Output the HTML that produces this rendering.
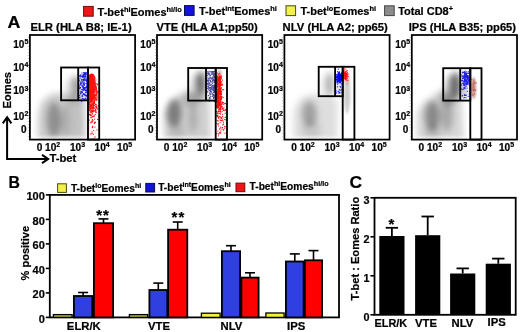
<!DOCTYPE html>
<html><head><meta charset="utf-8"><style>
html,body{margin:0;padding:0;background:#fff;width:520px;height:332px;overflow:hidden}
svg{display:block;filter:blur(0.4px)}
text{font-family:"Liberation Sans", sans-serif;fill:#000;stroke:#000;stroke-width:0.22px}
</style></head><body>
<svg xmlns="http://www.w3.org/2000/svg" width="520" height="332" viewBox="0 0 520 332" font-family='"Liberation Sans", sans-serif'><text x="7.6" y="27.9" font-size="17.0" font-weight="bold" text-anchor="start" stroke="#000" stroke-width="0.7" transform="translate(7.6,0) scale(1.05,1) translate(-7.6,0)">A</text>
<rect x="83.6" y="6.4" width="9.6" height="9.8" fill="#f21416" stroke="#6a0a0a" stroke-width="1"/>
<rect x="184.5" y="5.6" width="9.6" height="9.8" fill="#1212dc" stroke="#0a0a50" stroke-width="1"/>
<rect x="286" y="5.8" width="9.6" height="9.8" fill="#f2f04a" stroke="#4a4a10" stroke-width="1"/>
<rect x="384.6" y="5.8" width="9.6" height="9.8" fill="#8c8c8c" stroke="#444" stroke-width="1"/>
<text x="97.6" y="15.9" font-size="11" font-weight="bold"><tspan y="15.9">T-bet</tspan><tspan font-size="7.4" y="11.7">hi</tspan><tspan y="15.9">Eomes</tspan><tspan font-size="7.4" y="11.7">hi/lo</tspan></text>
<text x="198.9" y="15.2" font-size="11" font-weight="bold"><tspan y="15.2">T-bet</tspan><tspan font-size="7.4" y="11.0">int</tspan><tspan y="15.2">Eomes</tspan><tspan font-size="7.4" y="11.0">hi</tspan></text>
<text x="300.5" y="15.2" font-size="11" font-weight="bold"><tspan y="15.2">T-bet</tspan><tspan font-size="7.4" y="11.0">lo</tspan><tspan y="15.2">Eomes</tspan><tspan font-size="7.4" y="11.0">hi</tspan></text>
<text x="398.2" y="15.2" font-size="11" font-weight="bold"><tspan y="15.2">Total CD8</tspan><tspan font-size="7.4" y="11.0">+</tspan></text>
<defs><filter id="b25" x="-50%" y="-50%" width="200%" height="200%"><feGaussianBlur stdDeviation="2.6"/></filter><filter id="b3" x="-50%" y="-50%" width="200%" height="200%"><feGaussianBlur stdDeviation="3.2"/></filter><filter id="b4" x="-50%" y="-50%" width="200%" height="200%"><feGaussianBlur stdDeviation="4"/></filter><filter id="b1" x="-50%" y="-50%" width="200%" height="200%"><feGaussianBlur stdDeviation="1.2"/></filter><filter id="b03" x="-10%" y="-10%" width="120%" height="120%"><feGaussianBlur stdDeviation="0.3"/></filter>
<clipPath id="cp0"><rect x="30.9" y="36.0" width="103.2" height="102.6"/></clipPath>
<clipPath id="cp1"><rect x="158.0" y="36.0" width="103.2" height="102.6"/></clipPath>
<clipPath id="cp2"><rect x="285.4" y="36.0" width="103.2" height="102.6"/></clipPath>
<clipPath id="cp3"><rect x="412.8" y="36.0" width="103.2" height="102.6"/></clipPath>
</defs>
<text x="30.4" y="31.4" font-size="11.3" font-weight="bold" text-anchor="start" >ELR (HLA B8; IE-1)</text>
<g clip-path="url(#cp0)">
<g filter="url(#b3)">
<path d="M37.9,146.0 L37.9,114.0 L41.9,101.0 L50.9,94.0 L59.9,93.0 L84.9,96.0 L85.9,146.0 Z" fill="#000" opacity="0.2"/>
<ellipse cx="53.9" cy="120" rx="7" ry="18" fill="#000" opacity="0.3"/>
<ellipse cx="64.9" cy="121" rx="5" ry="17" fill="#000" opacity="0.12"/>
<ellipse cx="76.4" cy="87" rx="4.5" ry="11" fill="#000" opacity="0.32"/>
<ellipse cx="72.9" cy="89" rx="8" ry="13" fill="#000" opacity="0.12"/>
<ellipse cx="73.9" cy="101" rx="10" ry="5" fill="#000" opacity="0.08"/>
<ellipse cx="73.9" cy="120" rx="10" ry="18" fill="#000" opacity="0.05"/>
</g>
<rect x="29.9" y="136.0" width="105.2" height="6" fill="#fff" opacity="0.45" filter="url(#b1)"/>
<g fill="#1a1ae0"><circle cx="82.8" cy="86.1" r="0.62"/><circle cx="85.5" cy="73.4" r="0.62"/><circle cx="84.4" cy="89.5" r="0.62"/><circle cx="79.1" cy="86.8" r="0.62"/><circle cx="80.6" cy="78.0" r="0.62"/><circle cx="83.3" cy="90.2" r="0.62"/><circle cx="84.4" cy="84.6" r="0.62"/><circle cx="84.8" cy="80.2" r="0.62"/><circle cx="86.9" cy="96.6" r="0.62"/><circle cx="87.0" cy="82.7" r="0.62"/><circle cx="84.2" cy="94.5" r="0.62"/><circle cx="85.2" cy="74.1" r="0.62"/><circle cx="80.5" cy="87.7" r="0.62"/><circle cx="80.6" cy="93.0" r="0.62"/><circle cx="84.3" cy="74.1" r="0.62"/><circle cx="81.7" cy="79.6" r="0.62"/><circle cx="79.7" cy="88.4" r="0.62"/><circle cx="83.9" cy="81.9" r="0.62"/><circle cx="86.9" cy="85.4" r="0.62"/><circle cx="86.1" cy="76.1" r="0.62"/><circle cx="86.4" cy="95.7" r="0.62"/><circle cx="83.9" cy="83.5" r="0.62"/><circle cx="83.9" cy="79.5" r="0.62"/><circle cx="84.9" cy="72.6" r="0.62"/><circle cx="79.1" cy="78.8" r="0.62"/><circle cx="79.5" cy="75.9" r="0.62"/><circle cx="83.7" cy="74.6" r="0.62"/><circle cx="84.7" cy="88.5" r="0.62"/><circle cx="84.7" cy="100.2" r="0.62"/><circle cx="84.2" cy="85.4" r="0.62"/><circle cx="81.6" cy="101.3" r="0.62"/><circle cx="86.5" cy="81.3" r="0.62"/><circle cx="84.1" cy="82.3" r="0.62"/><circle cx="82.6" cy="96.3" r="0.62"/><circle cx="82.9" cy="77.6" r="0.62"/><circle cx="84.6" cy="76.7" r="0.62"/><circle cx="86.4" cy="90.8" r="0.62"/><circle cx="86.3" cy="80.6" r="0.62"/><circle cx="83.8" cy="80.2" r="0.62"/><circle cx="80.4" cy="84.4" r="0.62"/><circle cx="87.1" cy="84.4" r="0.62"/><circle cx="79.3" cy="97.4" r="0.62"/><circle cx="84.8" cy="88.1" r="0.62"/><circle cx="80.9" cy="74.8" r="0.62"/><circle cx="84.2" cy="84.3" r="0.62"/><circle cx="84.6" cy="76.6" r="0.62"/><circle cx="84.9" cy="76.0" r="0.62"/><circle cx="81.8" cy="92.0" r="0.62"/><circle cx="84.0" cy="93.8" r="0.62"/><circle cx="85.5" cy="98.4" r="0.62"/><circle cx="86.6" cy="92.7" r="0.62"/><circle cx="84.3" cy="76.8" r="0.62"/><circle cx="85.7" cy="90.3" r="0.62"/><circle cx="87.0" cy="87.0" r="0.62"/><circle cx="81.9" cy="73.0" r="0.62"/><circle cx="83.5" cy="94.2" r="0.62"/><circle cx="79.2" cy="95.4" r="0.62"/><circle cx="85.6" cy="75.8" r="0.62"/><circle cx="85.5" cy="74.8" r="0.62"/><circle cx="86.8" cy="73.1" r="0.62"/><circle cx="83.3" cy="79.4" r="0.62"/><circle cx="83.6" cy="80.1" r="0.62"/><circle cx="85.9" cy="98.2" r="0.62"/><circle cx="83.7" cy="76.7" r="0.62"/><circle cx="83.1" cy="89.1" r="0.62"/><circle cx="86.9" cy="86.4" r="0.62"/><circle cx="85.6" cy="87.8" r="0.62"/><circle cx="81.2" cy="85.1" r="0.62"/><circle cx="82.9" cy="80.3" r="0.62"/><circle cx="84.1" cy="99.0" r="0.62"/><circle cx="80.9" cy="91.7" r="0.62"/><circle cx="81.9" cy="89.6" r="0.62"/><circle cx="85.0" cy="74.3" r="0.62"/><circle cx="81.1" cy="76.6" r="0.62"/><circle cx="82.6" cy="82.1" r="0.62"/><circle cx="83.3" cy="75.4" r="0.62"/><circle cx="84.2" cy="90.2" r="0.62"/><circle cx="86.0" cy="89.3" r="0.62"/><circle cx="86.4" cy="80.2" r="0.62"/><circle cx="86.3" cy="74.6" r="0.62"/><circle cx="85.0" cy="78.5" r="0.62"/><circle cx="85.8" cy="83.5" r="0.62"/><circle cx="86.5" cy="100.3" r="0.62"/><circle cx="84.6" cy="76.3" r="0.62"/><circle cx="83.2" cy="88.0" r="0.62"/><circle cx="87.1" cy="99.0" r="0.62"/><circle cx="85.3" cy="80.6" r="0.62"/><circle cx="83.2" cy="83.7" r="0.62"/><circle cx="82.3" cy="76.5" r="0.62"/><circle cx="84.2" cy="83.0" r="0.62"/><circle cx="85.4" cy="95.6" r="0.62"/><circle cx="85.3" cy="94.1" r="0.62"/><circle cx="84.9" cy="72.7" r="0.62"/><circle cx="84.2" cy="89.7" r="0.62"/><circle cx="86.7" cy="91.0" r="0.62"/><circle cx="84.4" cy="88.0" r="0.62"/><circle cx="81.1" cy="82.9" r="0.62"/><circle cx="80.6" cy="82.1" r="0.62"/><circle cx="87.2" cy="90.2" r="0.62"/><circle cx="82.9" cy="75.7" r="0.62"/><circle cx="82.4" cy="86.7" r="0.62"/><circle cx="82.0" cy="79.3" r="0.62"/><circle cx="83.6" cy="79.2" r="0.62"/><circle cx="83.9" cy="74.0" r="0.62"/><circle cx="82.7" cy="76.8" r="0.62"/><circle cx="83.3" cy="74.3" r="0.62"/><circle cx="84.5" cy="84.5" r="0.62"/><circle cx="85.0" cy="77.8" r="0.62"/><circle cx="83.6" cy="88.7" r="0.62"/><circle cx="85.2" cy="76.3" r="0.62"/><circle cx="82.5" cy="89.7" r="0.62"/><circle cx="83.4" cy="72.7" r="0.62"/><circle cx="84.5" cy="87.5" r="0.62"/><circle cx="82.1" cy="85.2" r="0.62"/><circle cx="84.1" cy="94.2" r="0.62"/><circle cx="86.6" cy="83.7" r="0.62"/><circle cx="79.8" cy="97.5" r="0.62"/><circle cx="79.7" cy="87.9" r="0.62"/><circle cx="84.6" cy="79.7" r="0.62"/><circle cx="84.7" cy="79.2" r="0.62"/><circle cx="81.9" cy="92.9" r="0.62"/><circle cx="82.6" cy="95.2" r="0.62"/><circle cx="86.3" cy="78.1" r="0.62"/><circle cx="82.0" cy="81.7" r="0.62"/><circle cx="82.2" cy="76.5" r="0.62"/><circle cx="85.5" cy="87.1" r="0.62"/><circle cx="86.2" cy="79.2" r="0.62"/><circle cx="83.2" cy="87.3" r="0.62"/><circle cx="86.9" cy="90.6" r="0.62"/><circle cx="86.4" cy="73.1" r="0.62"/><circle cx="83.3" cy="94.1" r="0.62"/><circle cx="83.0" cy="87.1" r="0.62"/><circle cx="86.9" cy="90.2" r="0.62"/><circle cx="84.8" cy="95.2" r="0.62"/><circle cx="87.1" cy="82.1" r="0.62"/><circle cx="80.7" cy="83.6" r="0.62"/><circle cx="87.0" cy="72.3" r="0.62"/><circle cx="83.8" cy="98.5" r="0.62"/><circle cx="79.9" cy="76.2" r="0.62"/><circle cx="80.8" cy="76.2" r="0.62"/><circle cx="80.4" cy="93.8" r="0.62"/><circle cx="83.0" cy="77.3" r="0.62"/><circle cx="86.8" cy="95.2" r="0.62"/><circle cx="83.3" cy="86.4" r="0.62"/><circle cx="87.1" cy="90.8" r="0.62"/><circle cx="79.1" cy="85.1" r="0.62"/><circle cx="85.5" cy="92.5" r="0.62"/><circle cx="80.3" cy="75.3" r="0.62"/><circle cx="85.7" cy="73.0" r="0.62"/><circle cx="84.9" cy="73.5" r="0.62"/><circle cx="86.0" cy="79.9" r="0.62"/><circle cx="82.4" cy="98.7" r="0.62"/><circle cx="85.8" cy="76.9" r="0.62"/><circle cx="81.6" cy="80.1" r="0.62"/><circle cx="81.9" cy="91.7" r="0.62"/><circle cx="85.8" cy="90.6" r="0.62"/><circle cx="82.1" cy="92.4" r="0.62"/><circle cx="83.6" cy="84.6" r="0.62"/><circle cx="87.1" cy="95.1" r="0.62"/><circle cx="84.1" cy="79.4" r="0.62"/><circle cx="83.4" cy="79.7" r="0.62"/><circle cx="82.2" cy="91.0" r="0.62"/><circle cx="80.6" cy="93.0" r="0.62"/><circle cx="86.7" cy="87.8" r="0.62"/><circle cx="81.7" cy="96.0" r="0.62"/><circle cx="84.8" cy="76.0" r="0.62"/><circle cx="85.9" cy="88.8" r="0.62"/><circle cx="80.9" cy="75.3" r="0.62"/><circle cx="82.5" cy="86.3" r="0.62"/><circle cx="85.3" cy="95.8" r="0.62"/><circle cx="81.7" cy="83.2" r="0.62"/><circle cx="85.5" cy="90.8" r="0.62"/><circle cx="79.2" cy="80.7" r="0.62"/><circle cx="84.3" cy="73.8" r="0.62"/><circle cx="84.0" cy="75.4" r="0.62"/><circle cx="86.4" cy="87.4" r="0.62"/><circle cx="83.1" cy="74.9" r="0.62"/><circle cx="87.1" cy="86.4" r="0.62"/><circle cx="84.1" cy="76.6" r="0.62"/><circle cx="83.6" cy="87.8" r="0.62"/></g>
<g fill="#ff1010"><circle cx="93.3" cy="80.4" r="0.66"/><circle cx="94.2" cy="82.5" r="0.66"/><circle cx="92.0" cy="74.3" r="0.66"/><circle cx="89.6" cy="79.1" r="0.66"/><circle cx="93.6" cy="97.9" r="0.66"/><circle cx="91.8" cy="97.8" r="0.66"/><circle cx="91.8" cy="92.9" r="0.66"/><circle cx="92.3" cy="111.0" r="0.66"/><circle cx="93.3" cy="84.8" r="0.66"/><circle cx="89.7" cy="85.9" r="0.66"/><circle cx="95.5" cy="84.1" r="0.66"/><circle cx="94.4" cy="86.3" r="0.66"/><circle cx="93.5" cy="85.8" r="0.66"/><circle cx="90.7" cy="81.0" r="0.66"/><circle cx="96.3" cy="86.9" r="0.66"/><circle cx="90.6" cy="88.1" r="0.66"/><circle cx="89.6" cy="98.9" r="0.66"/><circle cx="89.4" cy="87.1" r="0.66"/><circle cx="90.3" cy="97.7" r="0.66"/><circle cx="92.9" cy="75.8" r="0.66"/><circle cx="91.1" cy="88.0" r="0.66"/><circle cx="91.0" cy="94.5" r="0.66"/><circle cx="94.1" cy="81.8" r="0.66"/><circle cx="91.0" cy="102.8" r="0.66"/><circle cx="95.6" cy="89.1" r="0.66"/><circle cx="89.2" cy="92.8" r="0.66"/><circle cx="96.1" cy="106.4" r="0.66"/><circle cx="92.6" cy="87.0" r="0.66"/><circle cx="90.4" cy="111.6" r="0.66"/><circle cx="91.9" cy="99.8" r="0.66"/><circle cx="90.9" cy="89.9" r="0.66"/><circle cx="91.1" cy="90.7" r="0.66"/><circle cx="92.9" cy="97.6" r="0.66"/><circle cx="92.5" cy="93.2" r="0.66"/><circle cx="91.6" cy="81.5" r="0.66"/><circle cx="93.4" cy="82.0" r="0.66"/><circle cx="91.2" cy="76.9" r="0.66"/><circle cx="92.9" cy="80.9" r="0.66"/><circle cx="89.2" cy="97.5" r="0.66"/><circle cx="89.6" cy="98.4" r="0.66"/><circle cx="92.0" cy="88.0" r="0.66"/><circle cx="92.8" cy="99.2" r="0.66"/><circle cx="93.7" cy="91.8" r="0.66"/><circle cx="92.4" cy="90.2" r="0.66"/><circle cx="93.9" cy="86.9" r="0.66"/><circle cx="92.0" cy="82.8" r="0.66"/><circle cx="90.2" cy="74.9" r="0.66"/><circle cx="89.5" cy="88.0" r="0.66"/><circle cx="95.2" cy="86.5" r="0.66"/><circle cx="90.1" cy="93.3" r="0.66"/><circle cx="91.6" cy="97.6" r="0.66"/><circle cx="90.4" cy="82.6" r="0.66"/><circle cx="90.1" cy="92.9" r="0.66"/><circle cx="91.5" cy="86.2" r="0.66"/><circle cx="92.4" cy="88.4" r="0.66"/><circle cx="89.7" cy="83.1" r="0.66"/><circle cx="92.6" cy="74.5" r="0.66"/><circle cx="90.1" cy="75.7" r="0.66"/><circle cx="89.1" cy="85.0" r="0.66"/><circle cx="91.1" cy="97.3" r="0.66"/><circle cx="94.9" cy="95.0" r="0.66"/><circle cx="97.3" cy="92.7" r="0.66"/><circle cx="90.6" cy="77.8" r="0.66"/><circle cx="92.2" cy="100.3" r="0.66"/><circle cx="93.6" cy="98.4" r="0.66"/><circle cx="95.5" cy="82.8" r="0.66"/><circle cx="90.7" cy="95.2" r="0.66"/><circle cx="90.7" cy="97.4" r="0.66"/><circle cx="95.1" cy="100.3" r="0.66"/><circle cx="92.1" cy="92.3" r="0.66"/><circle cx="90.7" cy="79.3" r="0.66"/><circle cx="93.3" cy="79.4" r="0.66"/><circle cx="95.8" cy="95.4" r="0.66"/><circle cx="92.8" cy="80.6" r="0.66"/><circle cx="89.6" cy="99.5" r="0.66"/><circle cx="91.3" cy="99.6" r="0.66"/><circle cx="89.8" cy="95.6" r="0.66"/><circle cx="93.3" cy="92.3" r="0.66"/><circle cx="89.6" cy="102.4" r="0.66"/><circle cx="90.9" cy="96.1" r="0.66"/><circle cx="93.7" cy="79.1" r="0.66"/><circle cx="90.2" cy="76.6" r="0.66"/><circle cx="97.9" cy="99.1" r="0.66"/><circle cx="89.3" cy="78.1" r="0.66"/><circle cx="89.4" cy="99.3" r="0.66"/><circle cx="91.4" cy="78.2" r="0.66"/><circle cx="92.4" cy="100.2" r="0.66"/><circle cx="92.3" cy="100.2" r="0.66"/><circle cx="91.0" cy="77.4" r="0.66"/><circle cx="91.9" cy="103.9" r="0.66"/><circle cx="95.9" cy="104.2" r="0.66"/><circle cx="94.5" cy="96.0" r="0.66"/><circle cx="89.5" cy="76.9" r="0.66"/><circle cx="95.9" cy="110.6" r="0.66"/><circle cx="90.1" cy="92.6" r="0.66"/><circle cx="89.7" cy="78.5" r="0.66"/><circle cx="90.1" cy="91.9" r="0.66"/><circle cx="89.3" cy="100.3" r="0.66"/><circle cx="94.4" cy="84.5" r="0.66"/><circle cx="90.5" cy="94.7" r="0.66"/><circle cx="93.8" cy="97.3" r="0.66"/><circle cx="95.4" cy="86.6" r="0.66"/><circle cx="93.2" cy="104.1" r="0.66"/><circle cx="91.0" cy="84.3" r="0.66"/><circle cx="95.7" cy="88.8" r="0.66"/><circle cx="91.7" cy="88.0" r="0.66"/><circle cx="93.5" cy="89.3" r="0.66"/><circle cx="96.1" cy="88.5" r="0.66"/><circle cx="91.1" cy="101.8" r="0.66"/><circle cx="94.2" cy="94.6" r="0.66"/><circle cx="89.9" cy="109.6" r="0.66"/><circle cx="93.8" cy="75.8" r="0.66"/><circle cx="93.6" cy="84.1" r="0.66"/><circle cx="92.8" cy="104.1" r="0.66"/><circle cx="94.2" cy="79.8" r="0.66"/><circle cx="89.3" cy="78.2" r="0.66"/><circle cx="92.1" cy="94.5" r="0.66"/><circle cx="93.8" cy="93.7" r="0.66"/><circle cx="90.6" cy="80.9" r="0.66"/><circle cx="90.7" cy="86.5" r="0.66"/><circle cx="96.0" cy="87.4" r="0.66"/><circle cx="92.6" cy="79.9" r="0.66"/><circle cx="92.5" cy="90.3" r="0.66"/><circle cx="90.8" cy="79.9" r="0.66"/><circle cx="93.2" cy="96.2" r="0.66"/><circle cx="90.7" cy="94.5" r="0.66"/><circle cx="91.8" cy="83.1" r="0.66"/><circle cx="89.7" cy="85.9" r="0.66"/><circle cx="93.6" cy="81.6" r="0.66"/><circle cx="96.0" cy="98.2" r="0.66"/><circle cx="90.5" cy="82.5" r="0.66"/><circle cx="93.3" cy="83.1" r="0.66"/><circle cx="94.7" cy="96.0" r="0.66"/><circle cx="94.7" cy="92.4" r="0.66"/><circle cx="91.6" cy="77.2" r="0.66"/><circle cx="89.0" cy="104.8" r="0.66"/><circle cx="93.1" cy="76.3" r="0.66"/><circle cx="90.8" cy="85.4" r="0.66"/><circle cx="96.5" cy="91.5" r="0.66"/><circle cx="93.5" cy="97.1" r="0.66"/><circle cx="89.2" cy="81.6" r="0.66"/><circle cx="91.5" cy="83.4" r="0.66"/><circle cx="96.1" cy="93.5" r="0.66"/><circle cx="93.8" cy="104.2" r="0.66"/><circle cx="95.9" cy="87.8" r="0.66"/><circle cx="94.3" cy="87.2" r="0.66"/><circle cx="92.8" cy="98.6" r="0.66"/><circle cx="93.0" cy="77.9" r="0.66"/><circle cx="89.7" cy="89.1" r="0.66"/><circle cx="93.0" cy="79.3" r="0.66"/><circle cx="89.5" cy="103.2" r="0.66"/><circle cx="89.7" cy="97.5" r="0.66"/><circle cx="93.1" cy="95.8" r="0.66"/><circle cx="93.2" cy="92.3" r="0.66"/><circle cx="92.8" cy="91.5" r="0.66"/><circle cx="93.6" cy="82.0" r="0.66"/><circle cx="96.4" cy="99.5" r="0.66"/><circle cx="92.3" cy="107.6" r="0.66"/><circle cx="91.3" cy="82.8" r="0.66"/><circle cx="93.4" cy="92.2" r="0.66"/><circle cx="92.1" cy="100.9" r="0.66"/><circle cx="90.6" cy="95.0" r="0.66"/><circle cx="91.1" cy="95.7" r="0.66"/><circle cx="94.4" cy="77.1" r="0.66"/><circle cx="92.0" cy="102.8" r="0.66"/><circle cx="94.2" cy="95.1" r="0.66"/><circle cx="91.3" cy="90.7" r="0.66"/><circle cx="89.1" cy="91.9" r="0.66"/><circle cx="91.5" cy="78.3" r="0.66"/><circle cx="92.8" cy="97.4" r="0.66"/><circle cx="89.2" cy="91.3" r="0.66"/><circle cx="93.2" cy="98.0" r="0.66"/><circle cx="89.1" cy="80.7" r="0.66"/><circle cx="89.2" cy="85.7" r="0.66"/><circle cx="91.0" cy="75.5" r="0.66"/><circle cx="90.3" cy="84.4" r="0.66"/><circle cx="92.0" cy="88.4" r="0.66"/><circle cx="90.7" cy="86.9" r="0.66"/><circle cx="95.6" cy="104.6" r="0.66"/><circle cx="93.5" cy="97.0" r="0.66"/><circle cx="92.4" cy="93.3" r="0.66"/><circle cx="94.2" cy="87.0" r="0.66"/><circle cx="89.3" cy="83.6" r="0.66"/><circle cx="92.5" cy="76.5" r="0.66"/><circle cx="89.3" cy="78.3" r="0.66"/><circle cx="90.8" cy="78.2" r="0.66"/><circle cx="94.9" cy="82.1" r="0.66"/><circle cx="93.9" cy="96.4" r="0.66"/><circle cx="90.8" cy="93.7" r="0.66"/><circle cx="91.6" cy="90.7" r="0.66"/><circle cx="90.7" cy="97.7" r="0.66"/><circle cx="90.3" cy="98.4" r="0.66"/><circle cx="94.8" cy="89.8" r="0.66"/><circle cx="94.6" cy="83.7" r="0.66"/><circle cx="89.0" cy="93.2" r="0.66"/><circle cx="92.9" cy="92.5" r="0.66"/><circle cx="96.9" cy="96.2" r="0.66"/><circle cx="89.3" cy="81.7" r="0.66"/><circle cx="93.9" cy="79.4" r="0.66"/><circle cx="96.6" cy="94.3" r="0.66"/><circle cx="89.1" cy="103.4" r="0.66"/><circle cx="89.5" cy="79.6" r="0.66"/><circle cx="93.5" cy="98.0" r="0.66"/><circle cx="92.7" cy="76.0" r="0.66"/><circle cx="90.4" cy="80.8" r="0.66"/><circle cx="91.7" cy="95.9" r="0.66"/><circle cx="93.4" cy="79.6" r="0.66"/><circle cx="92.1" cy="80.4" r="0.66"/><circle cx="91.9" cy="82.1" r="0.66"/><circle cx="90.1" cy="77.1" r="0.66"/><circle cx="92.4" cy="96.0" r="0.66"/><circle cx="92.4" cy="98.9" r="0.66"/><circle cx="95.0" cy="94.9" r="0.66"/><circle cx="91.3" cy="92.3" r="0.66"/><circle cx="92.5" cy="78.6" r="0.66"/><circle cx="90.9" cy="90.6" r="0.66"/><circle cx="90.8" cy="78.8" r="0.66"/><circle cx="96.3" cy="112.2" r="0.66"/><circle cx="89.3" cy="99.6" r="0.66"/><circle cx="89.9" cy="76.9" r="0.66"/><circle cx="89.4" cy="81.6" r="0.66"/><circle cx="91.8" cy="100.8" r="0.66"/><circle cx="89.0" cy="108.3" r="0.66"/><circle cx="93.3" cy="88.3" r="0.66"/><circle cx="90.0" cy="80.0" r="0.66"/><circle cx="93.9" cy="110.7" r="0.66"/><circle cx="97.6" cy="84.9" r="0.66"/><circle cx="90.5" cy="86.5" r="0.66"/><circle cx="92.2" cy="87.2" r="0.66"/><circle cx="89.4" cy="97.2" r="0.66"/><circle cx="89.3" cy="76.0" r="0.66"/><circle cx="91.9" cy="96.0" r="0.66"/><circle cx="92.5" cy="82.7" r="0.66"/><circle cx="90.7" cy="92.3" r="0.66"/><circle cx="91.1" cy="74.9" r="0.66"/><circle cx="94.2" cy="90.6" r="0.66"/><circle cx="92.5" cy="89.2" r="0.66"/><circle cx="91.7" cy="91.1" r="0.66"/><circle cx="89.3" cy="103.7" r="0.66"/><circle cx="91.5" cy="76.1" r="0.66"/><circle cx="92.1" cy="77.7" r="0.66"/><circle cx="92.1" cy="98.9" r="0.66"/><circle cx="91.1" cy="87.4" r="0.66"/><circle cx="98.1" cy="92.1" r="0.66"/><circle cx="89.8" cy="85.0" r="0.66"/><circle cx="91.4" cy="77.6" r="0.66"/><circle cx="93.3" cy="84.7" r="0.66"/><circle cx="89.0" cy="98.0" r="0.66"/><circle cx="91.1" cy="85.8" r="0.66"/><circle cx="92.1" cy="75.4" r="0.66"/><circle cx="89.1" cy="93.0" r="0.66"/><circle cx="92.6" cy="79.1" r="0.66"/><circle cx="93.8" cy="88.9" r="0.66"/><circle cx="89.6" cy="94.6" r="0.66"/><circle cx="89.5" cy="79.5" r="0.66"/><circle cx="92.5" cy="75.3" r="0.66"/><circle cx="91.4" cy="85.6" r="0.66"/><circle cx="89.8" cy="110.7" r="0.66"/><circle cx="95.6" cy="106.9" r="0.66"/><circle cx="96.1" cy="95.8" r="0.66"/><circle cx="91.1" cy="85.8" r="0.66"/><circle cx="91.3" cy="81.3" r="0.66"/><circle cx="89.5" cy="96.0" r="0.66"/><circle cx="89.6" cy="90.9" r="0.66"/><circle cx="97.1" cy="94.9" r="0.66"/><circle cx="92.3" cy="84.6" r="0.66"/><circle cx="91.2" cy="97.7" r="0.66"/><circle cx="91.1" cy="84.3" r="0.66"/><circle cx="91.6" cy="108.7" r="0.66"/><circle cx="95.4" cy="99.3" r="0.66"/><circle cx="93.4" cy="78.4" r="0.66"/><circle cx="90.3" cy="79.7" r="0.66"/><circle cx="90.3" cy="91.5" r="0.66"/><circle cx="94.2" cy="98.7" r="0.66"/><circle cx="93.2" cy="74.8" r="0.66"/><circle cx="89.7" cy="99.9" r="0.66"/><circle cx="94.1" cy="81.5" r="0.66"/><circle cx="94.4" cy="88.4" r="0.66"/><circle cx="90.9" cy="84.7" r="0.66"/><circle cx="91.2" cy="77.4" r="0.66"/><circle cx="92.0" cy="96.7" r="0.66"/><circle cx="95.6" cy="86.1" r="0.66"/><circle cx="94.1" cy="86.8" r="0.66"/><circle cx="93.2" cy="82.8" r="0.66"/><circle cx="89.8" cy="86.3" r="0.66"/><circle cx="90.9" cy="83.9" r="0.66"/><circle cx="93.8" cy="82.4" r="0.66"/><circle cx="94.6" cy="90.9" r="0.66"/><circle cx="94.7" cy="97.1" r="0.66"/><circle cx="90.5" cy="95.1" r="0.66"/><circle cx="94.5" cy="89.2" r="0.66"/><circle cx="93.5" cy="90.4" r="0.66"/><circle cx="91.1" cy="100.7" r="0.66"/><circle cx="92.1" cy="88.1" r="0.66"/><circle cx="93.0" cy="98.2" r="0.66"/><circle cx="96.5" cy="89.5" r="0.66"/><circle cx="89.2" cy="81.9" r="0.66"/><circle cx="89.5" cy="92.3" r="0.66"/><circle cx="91.2" cy="96.2" r="0.66"/><circle cx="91.5" cy="111.1" r="0.66"/><circle cx="91.2" cy="83.4" r="0.66"/><circle cx="93.7" cy="82.8" r="0.66"/><circle cx="94.9" cy="77.6" r="0.66"/><circle cx="90.2" cy="105.6" r="0.66"/><circle cx="92.7" cy="79.1" r="0.66"/><circle cx="93.8" cy="95.1" r="0.66"/><circle cx="91.3" cy="98.4" r="0.66"/><circle cx="90.0" cy="104.5" r="0.66"/><circle cx="90.1" cy="85.8" r="0.66"/><circle cx="89.6" cy="86.6" r="0.66"/><circle cx="90.7" cy="75.2" r="0.66"/><circle cx="91.3" cy="77.6" r="0.66"/><circle cx="94.6" cy="100.2" r="0.66"/><circle cx="91.9" cy="92.2" r="0.66"/><circle cx="89.6" cy="91.1" r="0.66"/><circle cx="90.6" cy="105.4" r="0.66"/><circle cx="91.4" cy="74.5" r="0.66"/><circle cx="93.3" cy="84.7" r="0.66"/><circle cx="91.3" cy="78.7" r="0.66"/><circle cx="90.4" cy="97.1" r="0.66"/><circle cx="92.1" cy="95.5" r="0.66"/><circle cx="92.7" cy="77.0" r="0.66"/><circle cx="92.8" cy="111.5" r="0.66"/><circle cx="92.4" cy="93.2" r="0.66"/><circle cx="90.6" cy="91.5" r="0.66"/><circle cx="91.6" cy="78.4" r="0.66"/><circle cx="94.5" cy="103.5" r="0.66"/><circle cx="89.4" cy="90.8" r="0.66"/><circle cx="89.5" cy="87.3" r="0.66"/><circle cx="92.8" cy="82.9" r="0.66"/><circle cx="96.3" cy="106.1" r="0.66"/><circle cx="93.7" cy="102.3" r="0.66"/><circle cx="91.5" cy="83.4" r="0.66"/><circle cx="91.8" cy="75.3" r="0.66"/><circle cx="94.8" cy="86.4" r="0.66"/><circle cx="90.9" cy="122.4" r="0.66"/><circle cx="90.6" cy="92.6" r="0.66"/><circle cx="89.3" cy="81.6" r="0.66"/><circle cx="96.0" cy="89.0" r="0.66"/><circle cx="93.0" cy="85.4" r="0.66"/><circle cx="91.9" cy="74.3" r="0.66"/><circle cx="89.6" cy="89.9" r="0.66"/><circle cx="89.1" cy="101.7" r="0.66"/><circle cx="93.8" cy="91.5" r="0.66"/><circle cx="90.6" cy="77.0" r="0.66"/><circle cx="93.9" cy="94.0" r="0.66"/><circle cx="89.5" cy="78.2" r="0.66"/><circle cx="89.7" cy="76.5" r="0.66"/><circle cx="90.6" cy="80.4" r="0.66"/><circle cx="92.2" cy="80.2" r="0.66"/><circle cx="89.7" cy="99.8" r="0.66"/><circle cx="89.6" cy="80.0" r="0.66"/><circle cx="93.9" cy="85.2" r="0.66"/><circle cx="90.7" cy="82.8" r="0.66"/><circle cx="94.9" cy="80.4" r="0.66"/><circle cx="94.6" cy="87.0" r="0.66"/><circle cx="94.1" cy="86.7" r="0.66"/><circle cx="89.1" cy="97.0" r="0.66"/><circle cx="91.8" cy="75.1" r="0.66"/><circle cx="95.8" cy="94.8" r="0.66"/><circle cx="92.9" cy="78.4" r="0.66"/><circle cx="91.8" cy="83.6" r="0.66"/><circle cx="89.0" cy="84.9" r="0.66"/><circle cx="91.7" cy="91.7" r="0.66"/><circle cx="95.7" cy="89.9" r="0.66"/><circle cx="90.6" cy="88.4" r="0.66"/><circle cx="92.0" cy="80.8" r="0.66"/><circle cx="89.6" cy="76.2" r="0.66"/><circle cx="89.8" cy="92.2" r="0.66"/><circle cx="92.1" cy="82.3" r="0.66"/><circle cx="90.3" cy="100.7" r="0.66"/><circle cx="90.2" cy="89.1" r="0.66"/><circle cx="93.9" cy="77.0" r="0.66"/><circle cx="90.9" cy="83.8" r="0.66"/><circle cx="93.2" cy="88.0" r="0.66"/><circle cx="92.1" cy="84.2" r="0.66"/><circle cx="89.4" cy="87.0" r="0.66"/><circle cx="89.3" cy="93.8" r="0.66"/><circle cx="89.1" cy="94.7" r="0.66"/><circle cx="93.0" cy="85.7" r="0.66"/><circle cx="94.8" cy="86.2" r="0.66"/><circle cx="96.1" cy="90.8" r="0.66"/><circle cx="95.5" cy="85.5" r="0.66"/><circle cx="89.8" cy="98.7" r="0.66"/><circle cx="91.2" cy="76.2" r="0.66"/><circle cx="93.0" cy="81.4" r="0.66"/><circle cx="89.5" cy="86.5" r="0.66"/><circle cx="91.9" cy="93.4" r="0.66"/><circle cx="89.9" cy="92.4" r="0.66"/><circle cx="94.6" cy="102.5" r="0.66"/><circle cx="89.9" cy="75.6" r="0.66"/><circle cx="89.8" cy="93.3" r="0.66"/><circle cx="89.9" cy="96.1" r="0.66"/><circle cx="89.3" cy="95.4" r="0.66"/><circle cx="94.7" cy="97.4" r="0.66"/><circle cx="91.7" cy="86.2" r="0.66"/><circle cx="89.8" cy="78.6" r="0.66"/><circle cx="89.2" cy="106.4" r="0.66"/><circle cx="90.1" cy="78.8" r="0.66"/><circle cx="93.4" cy="85.6" r="0.66"/><circle cx="89.1" cy="92.6" r="0.66"/><circle cx="91.6" cy="98.2" r="0.66"/><circle cx="93.1" cy="99.0" r="0.66"/><circle cx="94.4" cy="99.1" r="0.66"/><circle cx="89.3" cy="81.8" r="0.66"/><circle cx="92.5" cy="97.2" r="0.66"/><circle cx="95.3" cy="83.9" r="0.66"/><circle cx="92.4" cy="76.3" r="0.66"/><circle cx="93.9" cy="82.0" r="0.66"/><circle cx="94.7" cy="105.6" r="0.66"/><circle cx="93.3" cy="92.8" r="0.66"/><circle cx="93.1" cy="96.1" r="0.66"/><circle cx="91.1" cy="75.7" r="0.66"/><circle cx="93.7" cy="89.8" r="0.66"/><circle cx="90.5" cy="91.1" r="0.66"/><circle cx="91.1" cy="79.5" r="0.66"/><circle cx="92.2" cy="82.9" r="0.66"/><circle cx="94.9" cy="78.3" r="0.66"/><circle cx="92.2" cy="79.6" r="0.66"/><circle cx="89.3" cy="86.8" r="0.66"/><circle cx="91.8" cy="99.3" r="0.66"/><circle cx="93.0" cy="79.7" r="0.66"/><circle cx="93.6" cy="91.4" r="0.66"/><circle cx="90.8" cy="86.9" r="0.66"/><circle cx="89.2" cy="77.9" r="0.66"/><circle cx="92.0" cy="91.8" r="0.66"/><circle cx="93.9" cy="95.6" r="0.66"/><circle cx="91.5" cy="101.2" r="0.66"/><circle cx="89.7" cy="95.7" r="0.66"/><circle cx="91.9" cy="89.3" r="0.66"/><circle cx="94.1" cy="78.5" r="0.66"/><circle cx="91.0" cy="81.0" r="0.66"/><circle cx="91.7" cy="96.9" r="0.66"/><circle cx="89.4" cy="85.3" r="0.66"/><circle cx="94.6" cy="95.1" r="0.66"/><circle cx="93.5" cy="78.8" r="0.66"/><circle cx="92.2" cy="95.6" r="0.66"/><circle cx="94.3" cy="90.4" r="0.66"/><circle cx="91.1" cy="75.0" r="0.66"/><circle cx="89.6" cy="95.3" r="0.66"/><circle cx="91.7" cy="83.5" r="0.66"/><circle cx="92.0" cy="95.9" r="0.66"/><circle cx="92.4" cy="92.6" r="0.66"/><circle cx="90.2" cy="92.2" r="0.66"/><circle cx="93.8" cy="98.4" r="0.66"/><circle cx="94.3" cy="76.2" r="0.66"/><circle cx="92.0" cy="76.5" r="0.66"/><circle cx="92.4" cy="99.0" r="0.66"/><circle cx="91.1" cy="101.5" r="0.66"/><circle cx="93.5" cy="82.7" r="0.66"/><circle cx="95.4" cy="95.9" r="0.66"/><circle cx="93.8" cy="82.8" r="0.66"/><circle cx="89.3" cy="76.4" r="0.66"/><circle cx="90.6" cy="91.0" r="0.66"/><circle cx="96.4" cy="83.9" r="0.66"/><circle cx="96.8" cy="100.6" r="0.66"/><circle cx="95.9" cy="79.8" r="0.66"/><circle cx="92.8" cy="78.4" r="0.66"/><circle cx="90.6" cy="95.5" r="0.66"/><circle cx="93.1" cy="105.1" r="0.66"/><circle cx="91.4" cy="77.8" r="0.66"/><circle cx="90.4" cy="82.7" r="0.66"/><circle cx="91.9" cy="89.6" r="0.66"/><circle cx="94.2" cy="79.7" r="0.66"/><circle cx="90.6" cy="77.3" r="0.66"/><circle cx="96.9" cy="107.6" r="0.66"/><circle cx="90.9" cy="85.0" r="0.66"/><circle cx="94.2" cy="101.6" r="0.66"/><circle cx="90.5" cy="95.3" r="0.66"/><circle cx="89.4" cy="83.1" r="0.66"/><circle cx="90.5" cy="99.5" r="0.66"/><circle cx="90.0" cy="82.5" r="0.66"/><circle cx="93.8" cy="82.7" r="0.66"/><circle cx="91.5" cy="89.8" r="0.66"/><circle cx="92.8" cy="107.3" r="0.66"/><circle cx="91.8" cy="93.3" r="0.66"/><circle cx="90.5" cy="92.3" r="0.66"/><circle cx="92.2" cy="86.4" r="0.66"/><circle cx="96.2" cy="91.1" r="0.66"/><circle cx="89.2" cy="90.4" r="0.66"/><circle cx="91.0" cy="83.0" r="0.66"/><circle cx="89.2" cy="85.3" r="0.66"/><circle cx="91.9" cy="96.4" r="0.66"/><circle cx="89.2" cy="81.6" r="0.66"/><circle cx="92.2" cy="89.1" r="0.66"/><circle cx="90.3" cy="84.7" r="0.66"/><circle cx="92.3" cy="77.4" r="0.66"/><circle cx="93.2" cy="103.0" r="0.66"/><circle cx="91.2" cy="83.4" r="0.66"/><circle cx="94.0" cy="88.3" r="0.66"/><circle cx="90.0" cy="75.3" r="0.66"/><circle cx="93.0" cy="101.7" r="0.66"/><circle cx="89.4" cy="90.4" r="0.66"/><circle cx="90.0" cy="79.4" r="0.66"/><circle cx="91.4" cy="91.6" r="0.66"/><circle cx="90.1" cy="96.7" r="0.66"/><circle cx="92.4" cy="92.4" r="0.66"/><circle cx="90.7" cy="85.5" r="0.66"/><circle cx="96.9" cy="91.5" r="0.66"/><circle cx="92.3" cy="82.9" r="0.66"/><circle cx="91.0" cy="80.7" r="0.66"/><circle cx="91.5" cy="86.3" r="0.66"/><circle cx="92.8" cy="74.7" r="0.66"/><circle cx="94.1" cy="87.5" r="0.66"/><circle cx="89.2" cy="78.7" r="0.66"/><circle cx="90.2" cy="81.0" r="0.66"/><circle cx="89.7" cy="102.3" r="0.66"/><circle cx="91.8" cy="97.8" r="0.66"/><circle cx="92.8" cy="84.7" r="0.66"/><circle cx="95.5" cy="87.4" r="0.66"/><circle cx="90.1" cy="76.3" r="0.66"/><circle cx="93.5" cy="88.8" r="0.66"/><circle cx="94.3" cy="79.1" r="0.66"/><circle cx="91.0" cy="87.1" r="0.66"/><circle cx="95.0" cy="86.5" r="0.66"/><circle cx="94.6" cy="101.2" r="0.66"/><circle cx="93.8" cy="101.0" r="0.66"/><circle cx="93.9" cy="86.9" r="0.66"/><circle cx="91.7" cy="77.5" r="0.66"/><circle cx="91.0" cy="108.8" r="0.66"/><circle cx="90.8" cy="91.0" r="0.66"/><circle cx="91.7" cy="82.1" r="0.66"/><circle cx="92.5" cy="88.3" r="0.66"/><circle cx="96.7" cy="107.0" r="0.66"/><circle cx="94.1" cy="85.3" r="0.66"/><circle cx="91.0" cy="84.6" r="0.66"/><circle cx="95.2" cy="91.8" r="0.66"/><circle cx="95.6" cy="111.8" r="0.66"/><circle cx="94.8" cy="94.5" r="0.66"/><circle cx="94.5" cy="77.1" r="0.66"/><circle cx="95.8" cy="86.3" r="0.66"/><circle cx="97.4" cy="84.1" r="0.66"/><circle cx="94.5" cy="97.1" r="0.66"/><circle cx="90.4" cy="88.1" r="0.66"/><circle cx="94.0" cy="92.8" r="0.66"/><circle cx="89.2" cy="80.9" r="0.66"/><circle cx="89.4" cy="102.7" r="0.66"/><circle cx="89.2" cy="84.5" r="0.66"/><circle cx="90.9" cy="89.7" r="0.66"/><circle cx="90.9" cy="94.8" r="0.66"/><circle cx="92.0" cy="91.5" r="0.66"/><circle cx="89.9" cy="98.6" r="0.66"/><circle cx="89.7" cy="96.1" r="0.66"/><circle cx="93.4" cy="90.3" r="0.66"/><circle cx="89.1" cy="78.3" r="0.66"/><circle cx="91.3" cy="83.5" r="0.66"/><circle cx="91.9" cy="106.1" r="0.66"/><circle cx="94.5" cy="81.1" r="0.66"/><circle cx="89.2" cy="76.3" r="0.66"/><circle cx="91.7" cy="95.3" r="0.66"/><circle cx="89.4" cy="94.9" r="0.66"/><circle cx="92.3" cy="93.4" r="0.66"/><circle cx="89.7" cy="95.8" r="0.66"/><circle cx="91.9" cy="95.6" r="0.66"/><circle cx="89.8" cy="114.7" r="0.66"/><circle cx="93.3" cy="85.1" r="0.66"/><circle cx="91.0" cy="86.0" r="0.66"/><circle cx="90.1" cy="87.9" r="0.66"/><circle cx="94.4" cy="76.7" r="0.66"/><circle cx="91.3" cy="95.0" r="0.66"/><circle cx="93.5" cy="94.8" r="0.66"/><circle cx="93.1" cy="74.7" r="0.66"/><circle cx="91.4" cy="80.1" r="0.66"/><circle cx="90.5" cy="94.7" r="0.66"/><circle cx="90.7" cy="84.7" r="0.66"/><circle cx="90.9" cy="91.3" r="0.66"/><circle cx="91.5" cy="80.4" r="0.66"/><circle cx="90.2" cy="89.3" r="0.66"/><circle cx="92.8" cy="110.7" r="0.66"/><circle cx="89.1" cy="78.7" r="0.66"/><circle cx="89.5" cy="83.7" r="0.66"/><circle cx="90.3" cy="85.2" r="0.66"/><circle cx="91.6" cy="76.0" r="0.66"/><circle cx="90.4" cy="91.5" r="0.66"/><circle cx="92.1" cy="90.9" r="0.66"/><circle cx="92.4" cy="89.7" r="0.66"/><circle cx="91.6" cy="82.8" r="0.66"/><circle cx="91.8" cy="105.2" r="0.66"/><circle cx="94.4" cy="101.0" r="0.66"/><circle cx="91.9" cy="92.4" r="0.66"/><circle cx="89.2" cy="95.6" r="0.66"/><circle cx="90.6" cy="108.5" r="0.66"/><circle cx="94.5" cy="92.1" r="0.66"/><circle cx="94.8" cy="84.0" r="0.66"/><circle cx="90.4" cy="94.7" r="0.66"/><circle cx="90.9" cy="82.3" r="0.66"/><circle cx="90.6" cy="88.7" r="0.66"/><circle cx="91.0" cy="77.5" r="0.66"/><circle cx="92.1" cy="80.2" r="0.66"/><circle cx="92.7" cy="75.4" r="0.66"/><circle cx="93.3" cy="79.9" r="0.66"/><circle cx="90.8" cy="81.9" r="0.66"/><circle cx="94.5" cy="89.2" r="0.66"/><circle cx="91.6" cy="92.1" r="0.66"/><circle cx="92.0" cy="82.7" r="0.66"/><circle cx="92.5" cy="92.8" r="0.66"/><circle cx="93.0" cy="75.9" r="0.66"/><circle cx="90.9" cy="83.7" r="0.66"/><circle cx="91.3" cy="93.5" r="0.66"/><circle cx="90.9" cy="74.8" r="0.66"/><circle cx="93.2" cy="95.8" r="0.66"/><circle cx="92.0" cy="95.6" r="0.66"/><circle cx="91.5" cy="83.2" r="0.66"/><circle cx="89.8" cy="80.0" r="0.66"/><circle cx="94.3" cy="97.4" r="0.66"/><circle cx="90.8" cy="96.2" r="0.66"/><circle cx="91.2" cy="74.2" r="0.66"/><circle cx="96.5" cy="88.6" r="0.66"/><circle cx="93.0" cy="90.1" r="0.66"/><circle cx="91.3" cy="88.4" r="0.66"/><circle cx="95.0" cy="82.0" r="0.66"/><circle cx="90.1" cy="82.4" r="0.66"/><circle cx="92.3" cy="77.3" r="0.66"/><circle cx="90.4" cy="83.5" r="0.66"/><circle cx="92.2" cy="91.0" r="0.66"/><circle cx="91.0" cy="96.2" r="0.66"/><circle cx="89.2" cy="82.3" r="0.66"/><circle cx="93.3" cy="105.1" r="0.66"/><circle cx="90.1" cy="85.5" r="0.66"/><circle cx="93.0" cy="95.6" r="0.66"/><circle cx="92.9" cy="95.5" r="0.66"/><circle cx="92.8" cy="106.1" r="0.66"/><circle cx="89.3" cy="104.0" r="0.66"/><circle cx="89.7" cy="95.1" r="0.66"/><circle cx="90.6" cy="102.2" r="0.66"/><circle cx="92.9" cy="103.7" r="0.66"/><circle cx="91.7" cy="88.6" r="0.66"/><circle cx="91.3" cy="81.5" r="0.66"/><circle cx="91.8" cy="78.1" r="0.66"/><circle cx="96.1" cy="89.9" r="0.66"/><circle cx="92.5" cy="78.5" r="0.66"/><circle cx="89.5" cy="80.5" r="0.66"/><circle cx="92.7" cy="81.2" r="0.66"/><circle cx="91.2" cy="88.3" r="0.66"/><circle cx="91.0" cy="89.7" r="0.66"/><circle cx="93.7" cy="99.5" r="0.66"/><circle cx="95.5" cy="97.7" r="0.66"/><circle cx="90.2" cy="108.8" r="0.66"/><circle cx="93.0" cy="94.5" r="0.66"/><circle cx="92.7" cy="101.9" r="0.66"/><circle cx="90.4" cy="77.6" r="0.66"/><circle cx="90.9" cy="76.4" r="0.66"/><circle cx="92.7" cy="92.5" r="0.66"/><circle cx="92.1" cy="95.1" r="0.66"/><circle cx="91.5" cy="95.6" r="0.66"/><circle cx="90.9" cy="90.0" r="0.66"/><circle cx="91.3" cy="74.5" r="0.66"/><circle cx="89.9" cy="89.1" r="0.66"/><circle cx="90.6" cy="86.1" r="0.66"/><circle cx="93.4" cy="105.8" r="0.66"/><circle cx="94.3" cy="87.2" r="0.66"/><circle cx="94.6" cy="119.2" r="0.66"/><circle cx="92.6" cy="100.1" r="0.66"/><circle cx="90.9" cy="97.1" r="0.66"/><circle cx="95.4" cy="109.7" r="0.66"/><circle cx="91.2" cy="95.2" r="0.66"/><circle cx="97.1" cy="97.5" r="0.66"/><circle cx="90.1" cy="74.9" r="0.66"/><circle cx="89.6" cy="104.7" r="0.66"/><circle cx="92.5" cy="87.3" r="0.66"/><circle cx="89.1" cy="90.6" r="0.66"/><circle cx="91.1" cy="105.9" r="0.66"/><circle cx="89.5" cy="96.3" r="0.66"/><circle cx="91.7" cy="80.7" r="0.66"/><circle cx="89.5" cy="92.0" r="0.66"/><circle cx="92.0" cy="82.9" r="0.66"/><circle cx="94.9" cy="127.1" r="0.66"/><circle cx="90.5" cy="82.1" r="0.66"/><circle cx="90.7" cy="76.4" r="0.66"/><circle cx="90.7" cy="94.0" r="0.66"/><circle cx="89.0" cy="90.1" r="0.66"/><circle cx="90.6" cy="93.9" r="0.66"/><circle cx="89.6" cy="87.3" r="0.66"/><circle cx="95.9" cy="98.4" r="0.66"/><circle cx="93.7" cy="90.3" r="0.66"/><circle cx="90.6" cy="76.4" r="0.66"/><circle cx="93.7" cy="79.0" r="0.66"/><circle cx="90.3" cy="99.9" r="0.66"/><circle cx="89.4" cy="78.0" r="0.66"/><circle cx="92.9" cy="88.8" r="0.66"/><circle cx="89.5" cy="90.8" r="0.66"/><circle cx="96.6" cy="92.0" r="0.66"/><circle cx="97.5" cy="91.2" r="0.66"/><circle cx="90.0" cy="87.2" r="0.66"/><circle cx="89.9" cy="101.1" r="0.66"/><circle cx="93.1" cy="90.0" r="0.66"/><circle cx="96.9" cy="93.4" r="0.66"/><circle cx="89.4" cy="88.1" r="0.66"/><circle cx="90.4" cy="93.0" r="0.66"/><circle cx="90.3" cy="89.9" r="0.66"/><circle cx="92.6" cy="126.4" r="0.66"/><circle cx="89.1" cy="91.9" r="0.66"/><circle cx="92.4" cy="93.7" r="0.66"/><circle cx="90.0" cy="102.9" r="0.66"/><circle cx="89.5" cy="98.7" r="0.66"/><circle cx="90.8" cy="101.7" r="0.66"/><circle cx="91.2" cy="85.1" r="0.66"/><circle cx="92.9" cy="103.7" r="0.66"/><circle cx="89.7" cy="95.0" r="0.66"/><circle cx="90.9" cy="105.2" r="0.66"/><circle cx="93.6" cy="130.6" r="0.66"/><circle cx="90.3" cy="108.9" r="0.66"/><circle cx="94.1" cy="107.2" r="0.66"/><circle cx="95.0" cy="137.0" r="0.66"/><circle cx="93.5" cy="111.4" r="0.66"/><circle cx="94.9" cy="108.4" r="0.66"/><circle cx="92.5" cy="111.6" r="0.66"/><circle cx="89.1" cy="114.5" r="0.66"/><circle cx="92.4" cy="119.4" r="0.66"/><circle cx="92.0" cy="133.3" r="0.66"/><circle cx="91.1" cy="107.2" r="0.66"/><circle cx="97.6" cy="119.5" r="0.66"/><circle cx="92.3" cy="121.9" r="0.66"/><circle cx="92.4" cy="127.5" r="0.66"/><circle cx="95.3" cy="122.3" r="0.66"/><circle cx="95.0" cy="122.1" r="0.66"/><circle cx="93.0" cy="107.3" r="0.66"/><circle cx="93.5" cy="111.8" r="0.66"/><circle cx="92.5" cy="127.6" r="0.66"/><circle cx="91.7" cy="111.0" r="0.66"/><circle cx="91.3" cy="104.9" r="0.66"/><circle cx="92.9" cy="120.4" r="0.66"/><circle cx="96.1" cy="104.8" r="0.66"/><circle cx="92.8" cy="104.7" r="0.66"/><circle cx="92.2" cy="138.9" r="0.66"/><circle cx="91.8" cy="121.2" r="0.66"/><circle cx="90.7" cy="106.0" r="0.66"/><circle cx="91.3" cy="106.5" r="0.66"/><circle cx="90.7" cy="106.1" r="0.66"/><circle cx="93.8" cy="104.9" r="0.66"/><circle cx="92.3" cy="113.3" r="0.66"/><circle cx="97.4" cy="109.0" r="0.66"/><circle cx="94.1" cy="115.1" r="0.66"/><circle cx="93.3" cy="134.2" r="0.66"/><circle cx="91.0" cy="117.1" r="0.66"/><circle cx="92.2" cy="114.1" r="0.66"/><circle cx="89.7" cy="110.2" r="0.66"/><circle cx="93.4" cy="106.6" r="0.66"/><circle cx="92.3" cy="107.8" r="0.66"/><circle cx="89.3" cy="114.4" r="0.66"/><circle cx="89.3" cy="105.9" r="0.66"/><circle cx="91.0" cy="107.4" r="0.66"/><circle cx="91.4" cy="104.1" r="0.66"/><circle cx="89.5" cy="107.6" r="0.66"/><circle cx="93.4" cy="108.2" r="0.66"/><circle cx="90.4" cy="114.9" r="0.66"/><circle cx="90.3" cy="112.7" r="0.66"/><circle cx="93.7" cy="116.6" r="0.66"/><circle cx="91.1" cy="117.7" r="0.66"/><circle cx="90.2" cy="115.1" r="0.66"/><circle cx="94.5" cy="123.5" r="0.66"/><circle cx="91.2" cy="106.5" r="0.66"/><circle cx="92.1" cy="131.9" r="0.66"/><circle cx="91.1" cy="115.2" r="0.66"/><circle cx="94.9" cy="122.5" r="0.66"/><circle cx="92.6" cy="108.7" r="0.66"/><circle cx="95.5" cy="110.0" r="0.66"/><circle cx="95.5" cy="114.3" r="0.66"/><circle cx="93.1" cy="106.0" r="0.66"/><circle cx="91.4" cy="110.3" r="0.66"/><circle cx="93.2" cy="108.5" r="0.66"/><circle cx="92.9" cy="110.3" r="0.66"/><circle cx="89.5" cy="120.1" r="0.66"/><circle cx="91.2" cy="115.5" r="0.66"/><circle cx="95.6" cy="112.0" r="0.66"/><circle cx="91.8" cy="110.6" r="0.66"/><circle cx="94.2" cy="110.9" r="0.66"/><circle cx="93.3" cy="139.1" r="0.66"/><circle cx="96.4" cy="108.0" r="0.66"/><circle cx="89.6" cy="107.8" r="0.66"/><circle cx="93.1" cy="110.0" r="0.66"/><circle cx="92.7" cy="116.4" r="0.66"/><circle cx="93.0" cy="107.6" r="0.66"/><circle cx="90.3" cy="106.2" r="0.66"/><circle cx="92.6" cy="121.8" r="0.66"/><circle cx="91.0" cy="122.8" r="0.66"/><circle cx="89.2" cy="104.3" r="0.66"/><circle cx="89.6" cy="104.1" r="0.66"/><circle cx="91.4" cy="110.5" r="0.66"/><circle cx="91.7" cy="110.4" r="0.66"/><circle cx="92.4" cy="116.9" r="0.66"/><circle cx="90.9" cy="134.0" r="0.66"/><circle cx="91.4" cy="106.1" r="0.66"/><circle cx="90.0" cy="104.7" r="0.66"/><circle cx="91.8" cy="112.4" r="0.66"/><circle cx="93.8" cy="138.9" r="0.66"/><circle cx="89.9" cy="109.7" r="0.66"/><circle cx="98.2" cy="105.6" r="0.66"/><circle cx="94.2" cy="116.0" r="0.66"/><circle cx="97.1" cy="129.8" r="0.66"/></g>
</g>
<g fill="none" stroke="#000" stroke-width="1.85">
<rect x="61.099999999999994" y="67.5" width="26.900000000000002" height="32.8"/>
<line x1="78.19999999999999" y1="67.5" x2="78.19999999999999" y2="100.3"/>
<rect x="88.0" y="67.5" width="11.199999999999996" height="72.1"/>
</g>
<rect x="29.9" y="35.0" width="105.2" height="104.6" fill="none" stroke="#000" stroke-width="1.75"/>
<line x1="28.299999999999997" y1="37.0" x2="28.299999999999997" y2="139.6" stroke="#aaa" stroke-width="0.9" stroke-dasharray="0.8 2.2"/>
<text x="28.299999999999997" y="47.8" font-size="10.0" font-weight="bold" text-anchor="end">10<tspan font-size="7.0" dy="-3.5">5</tspan></text>
<text x="28.299999999999997" y="70.7" font-size="10.0" font-weight="bold" text-anchor="end">10<tspan font-size="7.0" dy="-3.5">4</tspan></text>
<text x="28.299999999999997" y="94.4" font-size="10.0" font-weight="bold" text-anchor="end">10<tspan font-size="7.0" dy="-3.5">3</tspan></text>
<text x="28.299999999999997" y="119.8" font-size="10.0" font-weight="bold" text-anchor="end">10<tspan font-size="7.0" dy="-3.5">2</tspan></text>
<text x="26.499999999999996" y="132.7" font-size="10.0" font-weight="bold" text-anchor="end">0</text>
<text x="36.699999999999996" y="150.7" font-size="10.1" font-weight="bold">0</text>
<text x="45.099999999999994" y="150.7" font-size="10.1" font-weight="bold">10<tspan font-size="7.0" dy="-3.6">2</tspan></text>
<text x="70.0" y="150.7" font-size="10.1" font-weight="bold">10<tspan font-size="7.0" dy="-3.6">3</tspan></text>
<text x="94.6" y="150.7" font-size="10.1" font-weight="bold">10<tspan font-size="7.0" dy="-3.6">4</tspan></text>
<text x="117.1" y="150.7" font-size="10.1" font-weight="bold">10<tspan font-size="7.0" dy="-3.6">5</tspan></text>
<text x="156.6" y="31.4" font-size="11.13" font-weight="bold" text-anchor="start" >VTE (HLA A1;pp50)</text>
<g clip-path="url(#cp1)">
<g filter="url(#b3)">
<path d="M164.0,146.0 L164.0,113.0 L171.0,101.0 L179.0,94.0 L188.0,90.0 L209.0,96.0 L211.0,146.0 Z" fill="#000" opacity="0.19"/>
<ellipse cx="174.0" cy="113" rx="7.5" ry="14" fill="#000" opacity="0.4"/>
<ellipse cx="177.0" cy="131" rx="8" ry="8" fill="#000" opacity="0.1"/>
<ellipse cx="193.0" cy="118" rx="4.5" ry="15" fill="#000" opacity="0.16"/>
<ellipse cx="201.0" cy="83" rx="4.8" ry="12" fill="#000" opacity="0.5"/>
<ellipse cx="198.0" cy="88" rx="8" ry="15" fill="#000" opacity="0.16"/>
<ellipse cx="190.0" cy="100" rx="8" ry="7" fill="#000" opacity="0.16"/>
</g>
<rect x="157.0" y="136.0" width="105.2" height="6" fill="#fff" opacity="0.45" filter="url(#b1)"/>
<g fill="#40409a"><circle cx="212.0" cy="89.6" r="0.62"/><circle cx="212.1" cy="86.1" r="0.62"/><circle cx="214.5" cy="82.7" r="0.62"/><circle cx="214.5" cy="80.0" r="0.62"/><circle cx="214.1" cy="95.3" r="0.62"/><circle cx="214.1" cy="71.6" r="0.62"/><circle cx="211.2" cy="72.3" r="0.62"/><circle cx="214.7" cy="81.7" r="0.62"/><circle cx="208.7" cy="100.5" r="0.62"/><circle cx="209.0" cy="78.4" r="0.62"/><circle cx="214.4" cy="87.4" r="0.62"/><circle cx="213.6" cy="75.6" r="0.62"/><circle cx="211.6" cy="88.7" r="0.62"/><circle cx="213.2" cy="89.4" r="0.62"/><circle cx="210.5" cy="80.5" r="0.62"/><circle cx="213.0" cy="94.1" r="0.62"/><circle cx="207.8" cy="73.7" r="0.62"/><circle cx="211.7" cy="84.8" r="0.62"/><circle cx="209.1" cy="87.7" r="0.62"/><circle cx="213.8" cy="85.2" r="0.62"/><circle cx="213.2" cy="85.9" r="0.62"/><circle cx="214.3" cy="73.3" r="0.62"/><circle cx="209.6" cy="80.0" r="0.62"/><circle cx="213.7" cy="97.6" r="0.62"/><circle cx="213.2" cy="71.5" r="0.62"/><circle cx="213.7" cy="80.7" r="0.62"/><circle cx="213.5" cy="98.4" r="0.62"/><circle cx="208.4" cy="89.5" r="0.62"/><circle cx="210.6" cy="75.2" r="0.62"/><circle cx="207.1" cy="100.3" r="0.62"/><circle cx="214.7" cy="80.5" r="0.62"/><circle cx="214.3" cy="85.6" r="0.62"/><circle cx="214.3" cy="101.0" r="0.62"/><circle cx="212.2" cy="73.8" r="0.62"/><circle cx="209.3" cy="73.0" r="0.62"/><circle cx="212.8" cy="72.0" r="0.62"/><circle cx="212.6" cy="77.1" r="0.62"/><circle cx="213.3" cy="92.4" r="0.62"/><circle cx="211.6" cy="86.9" r="0.62"/><circle cx="209.9" cy="76.0" r="0.62"/><circle cx="214.1" cy="90.3" r="0.62"/><circle cx="214.2" cy="89.0" r="0.62"/><circle cx="208.2" cy="72.8" r="0.62"/><circle cx="213.9" cy="90.6" r="0.62"/><circle cx="206.8" cy="78.8" r="0.62"/><circle cx="210.6" cy="85.5" r="0.62"/><circle cx="212.4" cy="96.6" r="0.62"/><circle cx="209.8" cy="92.9" r="0.62"/><circle cx="210.0" cy="94.9" r="0.62"/><circle cx="208.0" cy="83.8" r="0.62"/><circle cx="211.2" cy="71.4" r="0.62"/><circle cx="213.4" cy="88.8" r="0.62"/><circle cx="214.0" cy="74.7" r="0.62"/><circle cx="207.1" cy="81.1" r="0.62"/><circle cx="210.8" cy="96.4" r="0.62"/><circle cx="209.1" cy="77.8" r="0.62"/><circle cx="211.7" cy="82.0" r="0.62"/><circle cx="208.3" cy="81.4" r="0.62"/><circle cx="213.5" cy="79.3" r="0.62"/><circle cx="207.8" cy="88.3" r="0.62"/><circle cx="212.3" cy="83.0" r="0.62"/><circle cx="213.7" cy="76.8" r="0.62"/><circle cx="212.3" cy="71.6" r="0.62"/><circle cx="207.7" cy="83.9" r="0.62"/><circle cx="210.2" cy="98.1" r="0.62"/><circle cx="210.4" cy="81.0" r="0.62"/><circle cx="213.3" cy="94.5" r="0.62"/><circle cx="209.1" cy="83.3" r="0.62"/><circle cx="213.6" cy="94.3" r="0.62"/><circle cx="212.9" cy="95.6" r="0.62"/><circle cx="208.4" cy="86.8" r="0.62"/><circle cx="212.7" cy="81.5" r="0.62"/><circle cx="214.0" cy="78.0" r="0.62"/><circle cx="210.7" cy="88.6" r="0.62"/><circle cx="214.8" cy="90.5" r="0.62"/><circle cx="207.7" cy="75.4" r="0.62"/><circle cx="214.0" cy="82.2" r="0.62"/><circle cx="211.8" cy="88.5" r="0.62"/><circle cx="210.3" cy="75.7" r="0.62"/><circle cx="207.5" cy="80.4" r="0.62"/><circle cx="214.5" cy="85.1" r="0.62"/><circle cx="213.9" cy="76.1" r="0.62"/><circle cx="209.4" cy="101.2" r="0.62"/><circle cx="207.0" cy="77.1" r="0.62"/><circle cx="208.3" cy="86.9" r="0.62"/><circle cx="207.7" cy="91.6" r="0.62"/><circle cx="209.0" cy="71.3" r="0.62"/><circle cx="212.6" cy="83.2" r="0.62"/><circle cx="213.6" cy="79.7" r="0.62"/><circle cx="210.8" cy="81.6" r="0.62"/><circle cx="208.5" cy="95.5" r="0.62"/><circle cx="208.5" cy="84.9" r="0.62"/><circle cx="212.9" cy="71.9" r="0.62"/><circle cx="207.6" cy="71.8" r="0.62"/><circle cx="214.9" cy="101.0" r="0.62"/><circle cx="208.8" cy="83.0" r="0.62"/><circle cx="212.8" cy="85.6" r="0.62"/><circle cx="210.3" cy="77.6" r="0.62"/><circle cx="207.1" cy="83.9" r="0.62"/><circle cx="207.3" cy="92.0" r="0.62"/><circle cx="210.2" cy="93.7" r="0.62"/><circle cx="213.8" cy="87.0" r="0.62"/><circle cx="208.2" cy="100.1" r="0.62"/><circle cx="209.0" cy="88.2" r="0.62"/><circle cx="214.4" cy="92.2" r="0.62"/><circle cx="210.5" cy="91.4" r="0.62"/><circle cx="212.1" cy="77.7" r="0.62"/><circle cx="207.1" cy="83.4" r="0.62"/><circle cx="214.1" cy="76.9" r="0.62"/><circle cx="208.1" cy="79.0" r="0.62"/><circle cx="210.2" cy="84.2" r="0.62"/><circle cx="210.8" cy="78.8" r="0.62"/><circle cx="210.4" cy="81.8" r="0.62"/><circle cx="214.8" cy="82.0" r="0.62"/><circle cx="211.0" cy="78.1" r="0.62"/><circle cx="210.7" cy="91.7" r="0.62"/><circle cx="212.2" cy="93.0" r="0.62"/><circle cx="213.3" cy="87.4" r="0.62"/><circle cx="209.0" cy="79.1" r="0.62"/><circle cx="214.5" cy="88.3" r="0.62"/><circle cx="210.3" cy="91.4" r="0.62"/><circle cx="213.3" cy="94.7" r="0.62"/><circle cx="212.9" cy="87.2" r="0.62"/><circle cx="211.2" cy="73.8" r="0.62"/><circle cx="213.1" cy="74.7" r="0.62"/><circle cx="213.1" cy="72.6" r="0.62"/><circle cx="211.0" cy="89.0" r="0.62"/><circle cx="213.2" cy="94.8" r="0.62"/><circle cx="214.1" cy="85.6" r="0.62"/><circle cx="209.3" cy="83.8" r="0.62"/><circle cx="213.3" cy="90.2" r="0.62"/><circle cx="210.1" cy="71.6" r="0.62"/><circle cx="209.1" cy="82.7" r="0.62"/><circle cx="209.6" cy="97.4" r="0.62"/><circle cx="209.5" cy="88.1" r="0.62"/><circle cx="212.1" cy="93.8" r="0.62"/><circle cx="212.4" cy="80.2" r="0.62"/><circle cx="213.4" cy="74.2" r="0.62"/><circle cx="210.8" cy="94.3" r="0.62"/><circle cx="213.9" cy="95.9" r="0.62"/><circle cx="209.2" cy="98.9" r="0.62"/><circle cx="212.8" cy="80.6" r="0.62"/><circle cx="213.7" cy="88.5" r="0.62"/><circle cx="214.3" cy="77.2" r="0.62"/><circle cx="214.5" cy="91.5" r="0.62"/><circle cx="211.4" cy="87.2" r="0.62"/><circle cx="213.9" cy="75.0" r="0.62"/><circle cx="206.9" cy="88.6" r="0.62"/><circle cx="208.4" cy="74.1" r="0.62"/><circle cx="212.8" cy="85.6" r="0.62"/><circle cx="209.4" cy="90.2" r="0.62"/><circle cx="211.6" cy="91.0" r="0.62"/><circle cx="208.0" cy="86.4" r="0.62"/><circle cx="211.1" cy="100.1" r="0.62"/><circle cx="211.0" cy="84.3" r="0.62"/><circle cx="211.6" cy="78.9" r="0.62"/><circle cx="214.1" cy="80.4" r="0.62"/><circle cx="212.3" cy="72.8" r="0.62"/><circle cx="209.6" cy="87.5" r="0.62"/><circle cx="212.8" cy="79.2" r="0.62"/><circle cx="213.8" cy="87.1" r="0.62"/><circle cx="209.8" cy="90.5" r="0.62"/><circle cx="210.2" cy="90.5" r="0.62"/><circle cx="211.7" cy="74.0" r="0.62"/><circle cx="209.4" cy="85.5" r="0.62"/><circle cx="214.2" cy="77.9" r="0.62"/><circle cx="210.5" cy="87.3" r="0.62"/><circle cx="213.9" cy="73.7" r="0.62"/><circle cx="211.2" cy="92.2" r="0.62"/><circle cx="214.9" cy="96.0" r="0.62"/><circle cx="212.2" cy="78.0" r="0.62"/><circle cx="214.3" cy="97.2" r="0.62"/><circle cx="210.5" cy="89.7" r="0.62"/><circle cx="212.5" cy="89.7" r="0.62"/><circle cx="213.7" cy="97.1" r="0.62"/><circle cx="208.6" cy="80.5" r="0.62"/><circle cx="213.2" cy="90.4" r="0.62"/><circle cx="212.0" cy="87.9" r="0.62"/><circle cx="209.2" cy="73.8" r="0.62"/><circle cx="212.2" cy="78.6" r="0.62"/><circle cx="214.0" cy="91.5" r="0.62"/><circle cx="214.5" cy="86.4" r="0.62"/><circle cx="209.8" cy="97.9" r="0.62"/><circle cx="212.4" cy="74.1" r="0.62"/><circle cx="213.2" cy="89.2" r="0.62"/><circle cx="214.0" cy="71.6" r="0.62"/><circle cx="214.1" cy="101.0" r="0.62"/><circle cx="213.4" cy="89.1" r="0.62"/><circle cx="209.3" cy="74.6" r="0.62"/><circle cx="208.6" cy="73.0" r="0.62"/></g>
<g filter="url(#b1)"><ellipse cx="219.3" cy="74.0" rx="2.6" ry="4" fill="#a06060" opacity="0.45"/></g>
<g fill="#ff0a0a"><circle cx="219.7" cy="78.8" r="0.62"/><circle cx="219.5" cy="83.2" r="0.62"/><circle cx="218.4" cy="99.2" r="0.62"/><circle cx="218.2" cy="84.5" r="0.62"/><circle cx="219.9" cy="82.2" r="0.62"/><circle cx="220.1" cy="77.7" r="0.62"/><circle cx="217.8" cy="91.5" r="0.62"/><circle cx="217.8" cy="98.8" r="0.62"/><circle cx="220.1" cy="95.6" r="0.62"/><circle cx="217.2" cy="94.2" r="0.62"/><circle cx="220.8" cy="82.5" r="0.62"/><circle cx="217.7" cy="78.5" r="0.62"/><circle cx="216.7" cy="102.2" r="0.62"/><circle cx="220.5" cy="84.4" r="0.62"/><circle cx="217.1" cy="80.1" r="0.62"/><circle cx="219.4" cy="86.5" r="0.62"/><circle cx="219.5" cy="73.5" r="0.62"/><circle cx="220.2" cy="105.3" r="0.62"/><circle cx="216.7" cy="85.4" r="0.62"/><circle cx="218.3" cy="94.0" r="0.62"/><circle cx="221.0" cy="96.6" r="0.62"/><circle cx="221.5" cy="106.1" r="0.62"/><circle cx="221.1" cy="96.7" r="0.62"/><circle cx="217.6" cy="94.9" r="0.62"/><circle cx="219.7" cy="88.2" r="0.62"/><circle cx="217.0" cy="81.6" r="0.62"/><circle cx="221.2" cy="97.7" r="0.62"/><circle cx="217.1" cy="79.7" r="0.62"/><circle cx="221.1" cy="93.0" r="0.62"/><circle cx="219.5" cy="88.3" r="0.62"/><circle cx="219.4" cy="84.2" r="0.62"/><circle cx="218.0" cy="102.4" r="0.62"/><circle cx="220.8" cy="91.2" r="0.62"/><circle cx="217.2" cy="87.5" r="0.62"/><circle cx="220.4" cy="78.9" r="0.62"/><circle cx="218.7" cy="96.9" r="0.62"/><circle cx="220.4" cy="76.8" r="0.62"/><circle cx="217.4" cy="98.4" r="0.62"/><circle cx="218.3" cy="97.6" r="0.62"/><circle cx="220.2" cy="113.3" r="0.62"/><circle cx="218.5" cy="111.2" r="0.62"/><circle cx="217.5" cy="101.3" r="0.62"/><circle cx="219.4" cy="76.5" r="0.62"/><circle cx="218.1" cy="93.2" r="0.62"/><circle cx="217.2" cy="79.1" r="0.62"/><circle cx="219.0" cy="81.6" r="0.62"/><circle cx="218.6" cy="78.9" r="0.62"/><circle cx="218.3" cy="120.9" r="0.62"/><circle cx="218.4" cy="100.4" r="0.62"/><circle cx="217.9" cy="96.1" r="0.62"/><circle cx="217.3" cy="81.4" r="0.62"/><circle cx="219.4" cy="105.4" r="0.62"/><circle cx="218.4" cy="90.5" r="0.62"/><circle cx="219.1" cy="81.0" r="0.62"/><circle cx="220.0" cy="97.4" r="0.62"/><circle cx="217.3" cy="89.9" r="0.62"/><circle cx="218.2" cy="101.8" r="0.62"/><circle cx="218.0" cy="102.5" r="0.62"/><circle cx="218.9" cy="96.8" r="0.62"/><circle cx="216.7" cy="111.7" r="0.62"/><circle cx="221.0" cy="101.6" r="0.62"/><circle cx="221.5" cy="91.5" r="0.62"/><circle cx="220.1" cy="88.8" r="0.62"/><circle cx="218.9" cy="87.3" r="0.62"/><circle cx="217.6" cy="107.2" r="0.62"/><circle cx="222.1" cy="96.8" r="0.62"/><circle cx="216.8" cy="84.1" r="0.62"/><circle cx="217.8" cy="95.9" r="0.62"/><circle cx="218.9" cy="82.1" r="0.62"/><circle cx="218.1" cy="84.4" r="0.62"/><circle cx="218.1" cy="77.5" r="0.62"/><circle cx="219.1" cy="100.9" r="0.62"/><circle cx="219.0" cy="83.9" r="0.62"/><circle cx="219.7" cy="94.0" r="0.62"/><circle cx="218.2" cy="98.1" r="0.62"/><circle cx="218.7" cy="79.6" r="0.62"/><circle cx="217.3" cy="76.2" r="0.62"/><circle cx="220.2" cy="104.6" r="0.62"/><circle cx="218.0" cy="77.8" r="0.62"/><circle cx="218.7" cy="107.0" r="0.62"/><circle cx="217.1" cy="79.2" r="0.62"/><circle cx="220.5" cy="76.1" r="0.62"/><circle cx="217.7" cy="101.0" r="0.62"/><circle cx="220.8" cy="117.7" r="0.62"/><circle cx="219.3" cy="77.2" r="0.62"/><circle cx="217.0" cy="105.4" r="0.62"/><circle cx="220.7" cy="81.9" r="0.62"/><circle cx="220.2" cy="97.1" r="0.62"/><circle cx="219.0" cy="102.6" r="0.62"/><circle cx="223.0" cy="97.4" r="0.62"/><circle cx="218.1" cy="85.5" r="0.62"/><circle cx="219.7" cy="82.3" r="0.62"/><circle cx="218.8" cy="102.4" r="0.62"/><circle cx="221.3" cy="87.5" r="0.62"/><circle cx="217.8" cy="100.3" r="0.62"/><circle cx="220.4" cy="94.0" r="0.62"/><circle cx="220.2" cy="76.8" r="0.62"/><circle cx="219.7" cy="94.3" r="0.62"/><circle cx="221.0" cy="90.4" r="0.62"/><circle cx="219.7" cy="90.0" r="0.62"/><circle cx="218.4" cy="96.6" r="0.62"/><circle cx="223.7" cy="89.7" r="0.62"/><circle cx="217.3" cy="77.4" r="0.62"/><circle cx="219.6" cy="92.0" r="0.62"/><circle cx="217.3" cy="96.4" r="0.62"/><circle cx="220.1" cy="83.5" r="0.62"/><circle cx="217.0" cy="81.1" r="0.62"/><circle cx="220.2" cy="98.5" r="0.62"/><circle cx="217.6" cy="83.3" r="0.62"/><circle cx="218.9" cy="78.6" r="0.62"/><circle cx="220.0" cy="89.9" r="0.62"/><circle cx="217.0" cy="105.9" r="0.62"/><circle cx="218.5" cy="102.2" r="0.62"/><circle cx="219.3" cy="76.4" r="0.62"/><circle cx="216.8" cy="101.3" r="0.62"/><circle cx="218.6" cy="118.2" r="0.62"/><circle cx="218.1" cy="87.5" r="0.62"/><circle cx="217.5" cy="85.4" r="0.62"/><circle cx="221.5" cy="99.6" r="0.62"/><circle cx="220.2" cy="101.3" r="0.62"/><circle cx="217.3" cy="101.5" r="0.62"/><circle cx="218.5" cy="104.3" r="0.62"/><circle cx="218.9" cy="99.1" r="0.62"/><circle cx="218.4" cy="89.2" r="0.62"/><circle cx="218.8" cy="90.2" r="0.62"/><circle cx="217.1" cy="79.3" r="0.62"/><circle cx="220.9" cy="88.4" r="0.62"/><circle cx="216.8" cy="82.1" r="0.62"/><circle cx="221.9" cy="85.2" r="0.62"/><circle cx="218.8" cy="91.0" r="0.62"/><circle cx="216.8" cy="98.2" r="0.62"/><circle cx="220.8" cy="83.8" r="0.62"/><circle cx="219.2" cy="102.4" r="0.62"/><circle cx="218.5" cy="86.2" r="0.62"/><circle cx="217.2" cy="86.2" r="0.62"/><circle cx="218.3" cy="94.4" r="0.62"/><circle cx="216.7" cy="99.6" r="0.62"/><circle cx="217.5" cy="95.4" r="0.62"/><circle cx="217.5" cy="81.8" r="0.62"/><circle cx="217.0" cy="91.0" r="0.62"/><circle cx="221.5" cy="98.5" r="0.62"/><circle cx="217.1" cy="93.4" r="0.62"/><circle cx="217.2" cy="76.5" r="0.62"/><circle cx="219.5" cy="88.5" r="0.62"/><circle cx="220.1" cy="87.8" r="0.62"/><circle cx="219.0" cy="79.3" r="0.62"/><circle cx="217.0" cy="102.1" r="0.62"/><circle cx="219.3" cy="86.2" r="0.62"/><circle cx="217.7" cy="107.1" r="0.62"/><circle cx="220.7" cy="89.8" r="0.62"/><circle cx="219.3" cy="104.4" r="0.62"/><circle cx="216.7" cy="79.3" r="0.62"/><circle cx="217.2" cy="91.2" r="0.62"/><circle cx="217.1" cy="84.4" r="0.62"/><circle cx="218.8" cy="96.1" r="0.62"/><circle cx="221.5" cy="76.2" r="0.62"/><circle cx="218.3" cy="91.8" r="0.62"/><circle cx="219.6" cy="77.4" r="0.62"/><circle cx="220.3" cy="94.7" r="0.62"/><circle cx="220.4" cy="78.2" r="0.62"/><circle cx="217.1" cy="73.0" r="0.62"/><circle cx="219.0" cy="85.5" r="0.62"/><circle cx="220.0" cy="100.7" r="0.62"/><circle cx="217.3" cy="77.0" r="0.62"/><circle cx="217.2" cy="84.2" r="0.62"/><circle cx="220.2" cy="100.4" r="0.62"/><circle cx="218.7" cy="82.9" r="0.62"/><circle cx="220.5" cy="93.6" r="0.62"/><circle cx="217.0" cy="101.9" r="0.62"/><circle cx="217.2" cy="92.5" r="0.62"/><circle cx="220.7" cy="79.3" r="0.62"/><circle cx="217.2" cy="89.6" r="0.62"/><circle cx="221.0" cy="91.5" r="0.62"/><circle cx="217.6" cy="86.7" r="0.62"/><circle cx="220.1" cy="79.6" r="0.62"/><circle cx="220.4" cy="92.4" r="0.62"/><circle cx="220.4" cy="90.2" r="0.62"/><circle cx="220.1" cy="84.2" r="0.62"/><circle cx="217.9" cy="92.5" r="0.62"/><circle cx="218.2" cy="106.2" r="0.62"/><circle cx="218.3" cy="92.3" r="0.62"/><circle cx="218.3" cy="85.8" r="0.62"/><circle cx="217.0" cy="103.3" r="0.62"/><circle cx="221.5" cy="94.3" r="0.62"/><circle cx="220.5" cy="82.6" r="0.62"/><circle cx="221.1" cy="92.4" r="0.62"/><circle cx="217.1" cy="93.7" r="0.62"/><circle cx="219.1" cy="97.6" r="0.62"/><circle cx="217.4" cy="101.2" r="0.62"/><circle cx="219.4" cy="84.5" r="0.62"/><circle cx="220.0" cy="74.9" r="0.62"/><circle cx="221.1" cy="88.3" r="0.62"/><circle cx="221.7" cy="93.2" r="0.62"/><circle cx="218.5" cy="103.0" r="0.62"/><circle cx="221.0" cy="83.7" r="0.62"/><circle cx="220.5" cy="107.2" r="0.62"/><circle cx="219.5" cy="91.2" r="0.62"/><circle cx="217.9" cy="99.8" r="0.62"/><circle cx="216.8" cy="91.4" r="0.62"/><circle cx="219.6" cy="84.5" r="0.62"/><circle cx="219.3" cy="77.9" r="0.62"/><circle cx="222.7" cy="89.7" r="0.62"/><circle cx="217.0" cy="96.9" r="0.62"/><circle cx="218.1" cy="80.2" r="0.62"/><circle cx="221.2" cy="78.4" r="0.62"/><circle cx="218.7" cy="102.6" r="0.62"/><circle cx="218.2" cy="75.1" r="0.62"/><circle cx="218.8" cy="91.5" r="0.62"/><circle cx="218.1" cy="92.7" r="0.62"/><circle cx="220.4" cy="91.4" r="0.62"/><circle cx="218.4" cy="95.2" r="0.62"/><circle cx="217.7" cy="83.2" r="0.62"/><circle cx="219.9" cy="99.1" r="0.62"/><circle cx="221.6" cy="81.9" r="0.62"/><circle cx="218.8" cy="91.3" r="0.62"/><circle cx="219.4" cy="104.0" r="0.62"/><circle cx="219.3" cy="113.4" r="0.62"/><circle cx="221.1" cy="84.2" r="0.62"/><circle cx="220.6" cy="85.5" r="0.62"/><circle cx="216.9" cy="82.5" r="0.62"/><circle cx="219.2" cy="82.3" r="0.62"/><circle cx="218.4" cy="89.9" r="0.62"/><circle cx="216.9" cy="92.3" r="0.62"/><circle cx="220.4" cy="76.7" r="0.62"/><circle cx="217.8" cy="96.6" r="0.62"/><circle cx="217.7" cy="94.0" r="0.62"/><circle cx="219.6" cy="90.1" r="0.62"/><circle cx="218.0" cy="105.3" r="0.62"/><circle cx="220.6" cy="91.6" r="0.62"/><circle cx="220.0" cy="91.5" r="0.62"/><circle cx="218.5" cy="84.0" r="0.62"/><circle cx="220.0" cy="80.4" r="0.62"/><circle cx="219.7" cy="103.4" r="0.62"/><circle cx="217.5" cy="76.3" r="0.62"/><circle cx="219.9" cy="88.2" r="0.62"/><circle cx="219.2" cy="94.4" r="0.62"/><circle cx="218.4" cy="103.4" r="0.62"/><circle cx="218.3" cy="83.8" r="0.62"/><circle cx="219.1" cy="77.0" r="0.62"/><circle cx="220.9" cy="85.2" r="0.62"/><circle cx="218.7" cy="109.0" r="0.62"/><circle cx="220.1" cy="98.9" r="0.62"/><circle cx="217.4" cy="101.8" r="0.62"/><circle cx="217.3" cy="84.0" r="0.62"/><circle cx="219.9" cy="102.7" r="0.62"/><circle cx="217.3" cy="83.3" r="0.62"/><circle cx="217.2" cy="79.0" r="0.62"/><circle cx="217.1" cy="101.1" r="0.62"/><circle cx="220.0" cy="85.2" r="0.62"/><circle cx="219.2" cy="98.1" r="0.62"/><circle cx="220.5" cy="97.5" r="0.62"/><circle cx="220.3" cy="80.7" r="0.62"/><circle cx="221.1" cy="96.7" r="0.62"/><circle cx="219.8" cy="93.7" r="0.62"/><circle cx="220.0" cy="100.1" r="0.62"/><circle cx="217.9" cy="97.9" r="0.62"/><circle cx="218.4" cy="93.3" r="0.62"/><circle cx="219.2" cy="90.9" r="0.62"/><circle cx="217.0" cy="80.4" r="0.62"/><circle cx="217.6" cy="81.4" r="0.62"/><circle cx="216.7" cy="88.6" r="0.62"/><circle cx="216.7" cy="80.7" r="0.62"/><circle cx="218.2" cy="91.8" r="0.62"/><circle cx="220.4" cy="102.9" r="0.62"/><circle cx="216.9" cy="92.7" r="0.62"/><circle cx="219.4" cy="105.4" r="0.62"/><circle cx="216.7" cy="94.6" r="0.62"/><circle cx="218.6" cy="80.0" r="0.62"/><circle cx="217.2" cy="79.7" r="0.62"/><circle cx="217.7" cy="101.7" r="0.62"/><circle cx="216.8" cy="115.6" r="0.62"/><circle cx="217.3" cy="99.5" r="0.62"/><circle cx="221.0" cy="95.9" r="0.62"/><circle cx="219.4" cy="87.8" r="0.62"/><circle cx="220.1" cy="96.2" r="0.62"/><circle cx="218.7" cy="88.7" r="0.62"/><circle cx="217.8" cy="105.1" r="0.62"/><circle cx="219.5" cy="91.3" r="0.62"/><circle cx="218.5" cy="95.1" r="0.62"/><circle cx="219.9" cy="102.0" r="0.62"/><circle cx="216.8" cy="79.9" r="0.62"/><circle cx="218.4" cy="83.7" r="0.62"/><circle cx="219.7" cy="82.2" r="0.62"/><circle cx="219.5" cy="84.3" r="0.62"/><circle cx="219.6" cy="103.4" r="0.62"/><circle cx="219.4" cy="80.1" r="0.62"/><circle cx="217.4" cy="107.0" r="0.62"/><circle cx="219.4" cy="82.9" r="0.62"/><circle cx="217.7" cy="103.5" r="0.62"/><circle cx="217.6" cy="82.4" r="0.62"/><circle cx="218.0" cy="87.0" r="0.62"/><circle cx="216.8" cy="101.0" r="0.62"/><circle cx="218.2" cy="80.7" r="0.62"/><circle cx="220.0" cy="78.4" r="0.62"/><circle cx="218.7" cy="93.6" r="0.62"/><circle cx="219.8" cy="104.8" r="0.62"/><circle cx="217.7" cy="94.7" r="0.62"/><circle cx="217.1" cy="97.8" r="0.62"/><circle cx="218.0" cy="111.8" r="0.62"/><circle cx="218.9" cy="90.2" r="0.62"/><circle cx="218.4" cy="88.5" r="0.62"/><circle cx="217.7" cy="86.9" r="0.62"/><circle cx="219.0" cy="79.0" r="0.62"/><circle cx="221.4" cy="99.2" r="0.62"/><circle cx="219.7" cy="78.8" r="0.62"/><circle cx="220.8" cy="102.2" r="0.62"/><circle cx="219.1" cy="103.6" r="0.62"/><circle cx="220.6" cy="100.0" r="0.62"/><circle cx="217.9" cy="113.8" r="0.62"/><circle cx="217.0" cy="83.2" r="0.62"/><circle cx="220.4" cy="79.9" r="0.62"/><circle cx="218.2" cy="92.4" r="0.62"/><circle cx="217.2" cy="85.2" r="0.62"/><circle cx="221.1" cy="98.9" r="0.62"/><circle cx="219.9" cy="82.2" r="0.62"/><circle cx="217.2" cy="83.1" r="0.62"/><circle cx="219.0" cy="80.5" r="0.62"/><circle cx="220.2" cy="86.8" r="0.62"/><circle cx="220.6" cy="80.1" r="0.62"/><circle cx="218.4" cy="90.3" r="0.62"/><circle cx="219.7" cy="90.7" r="0.62"/><circle cx="218.5" cy="89.2" r="0.62"/><circle cx="220.3" cy="108.5" r="0.62"/><circle cx="218.7" cy="96.7" r="0.62"/><circle cx="218.3" cy="101.1" r="0.62"/><circle cx="217.7" cy="104.5" r="0.62"/><circle cx="219.1" cy="98.0" r="0.62"/><circle cx="217.0" cy="88.5" r="0.62"/><circle cx="218.7" cy="74.2" r="0.62"/><circle cx="219.6" cy="80.0" r="0.62"/><circle cx="217.6" cy="95.6" r="0.62"/><circle cx="219.0" cy="97.9" r="0.62"/><circle cx="218.9" cy="100.2" r="0.62"/><circle cx="218.7" cy="95.5" r="0.62"/><circle cx="220.9" cy="81.4" r="0.62"/><circle cx="219.8" cy="93.0" r="0.62"/><circle cx="217.0" cy="95.9" r="0.62"/><circle cx="221.4" cy="94.6" r="0.62"/><circle cx="218.9" cy="80.8" r="0.62"/><circle cx="218.5" cy="94.0" r="0.62"/><circle cx="219.0" cy="83.8" r="0.62"/><circle cx="217.3" cy="104.3" r="0.62"/><circle cx="217.6" cy="85.0" r="0.62"/><circle cx="218.0" cy="85.6" r="0.62"/><circle cx="217.8" cy="112.9" r="0.62"/><circle cx="220.3" cy="93.8" r="0.62"/><circle cx="220.0" cy="86.7" r="0.62"/><circle cx="217.0" cy="77.8" r="0.62"/><circle cx="218.1" cy="80.6" r="0.62"/><circle cx="218.6" cy="93.1" r="0.62"/><circle cx="219.7" cy="87.7" r="0.62"/><circle cx="218.6" cy="107.5" r="0.62"/><circle cx="217.0" cy="98.5" r="0.62"/><circle cx="220.7" cy="79.2" r="0.62"/><circle cx="218.6" cy="106.8" r="0.62"/><circle cx="217.7" cy="84.6" r="0.62"/><circle cx="220.3" cy="85.4" r="0.62"/><circle cx="217.2" cy="77.4" r="0.62"/><circle cx="217.6" cy="86.3" r="0.62"/><circle cx="221.1" cy="85.5" r="0.62"/><circle cx="220.5" cy="84.3" r="0.62"/><circle cx="217.1" cy="99.1" r="0.62"/><circle cx="221.3" cy="77.9" r="0.62"/><circle cx="218.3" cy="104.3" r="0.62"/><circle cx="219.2" cy="104.0" r="0.62"/><circle cx="218.9" cy="97.7" r="0.62"/><circle cx="218.6" cy="103.2" r="0.62"/><circle cx="216.8" cy="97.5" r="0.62"/><circle cx="217.5" cy="93.6" r="0.62"/><circle cx="219.1" cy="77.2" r="0.62"/><circle cx="218.9" cy="93.0" r="0.62"/><circle cx="219.5" cy="89.2" r="0.62"/><circle cx="218.4" cy="106.9" r="0.62"/><circle cx="219.7" cy="83.5" r="0.62"/><circle cx="222.4" cy="80.1" r="0.62"/><circle cx="218.1" cy="91.3" r="0.62"/><circle cx="218.9" cy="94.0" r="0.62"/><circle cx="216.7" cy="93.1" r="0.62"/><circle cx="219.1" cy="81.3" r="0.62"/><circle cx="220.9" cy="77.1" r="0.62"/><circle cx="219.0" cy="111.4" r="0.62"/><circle cx="218.0" cy="102.5" r="0.62"/><circle cx="216.9" cy="93.7" r="0.62"/><circle cx="219.3" cy="109.3" r="0.62"/><circle cx="218.0" cy="106.2" r="0.62"/><circle cx="218.9" cy="92.7" r="0.62"/><circle cx="219.1" cy="78.9" r="0.62"/><circle cx="218.7" cy="83.5" r="0.62"/><circle cx="219.4" cy="77.2" r="0.62"/><circle cx="219.2" cy="85.0" r="0.62"/><circle cx="219.0" cy="102.0" r="0.62"/><circle cx="218.5" cy="101.3" r="0.62"/><circle cx="219.9" cy="85.6" r="0.62"/><circle cx="220.9" cy="99.8" r="0.62"/><circle cx="220.6" cy="88.9" r="0.62"/><circle cx="218.9" cy="91.7" r="0.62"/><circle cx="220.5" cy="89.1" r="0.62"/><circle cx="222.2" cy="84.1" r="0.62"/><circle cx="216.8" cy="95.2" r="0.62"/><circle cx="219.7" cy="88.6" r="0.62"/><circle cx="220.0" cy="93.0" r="0.62"/><circle cx="218.9" cy="105.8" r="0.62"/><circle cx="220.5" cy="99.0" r="0.62"/><circle cx="220.8" cy="97.5" r="0.62"/><circle cx="218.4" cy="83.6" r="0.62"/><circle cx="217.6" cy="96.9" r="0.62"/><circle cx="216.9" cy="86.7" r="0.62"/><circle cx="217.5" cy="89.9" r="0.62"/><circle cx="219.1" cy="88.3" r="0.62"/><circle cx="217.5" cy="115.7" r="0.62"/><circle cx="219.1" cy="89.9" r="0.62"/><circle cx="218.4" cy="88.7" r="0.62"/><circle cx="219.4" cy="77.8" r="0.62"/><circle cx="217.9" cy="93.9" r="0.62"/><circle cx="219.2" cy="103.7" r="0.62"/><circle cx="218.3" cy="90.7" r="0.62"/><circle cx="220.2" cy="90.1" r="0.62"/><circle cx="218.3" cy="101.4" r="0.62"/><circle cx="217.7" cy="85.4" r="0.62"/><circle cx="222.6" cy="84.8" r="0.62"/><circle cx="222.4" cy="127.7" r="0.62"/><circle cx="219.0" cy="109.8" r="0.62"/><circle cx="219.8" cy="105.2" r="0.62"/><circle cx="225.3" cy="117.4" r="0.62"/><circle cx="217.3" cy="120.7" r="0.62"/><circle cx="218.4" cy="111.0" r="0.62"/><circle cx="224.7" cy="128.2" r="0.62"/><circle cx="220.8" cy="127.8" r="0.62"/><circle cx="218.2" cy="104.2" r="0.62"/><circle cx="218.0" cy="107.8" r="0.62"/><circle cx="217.1" cy="104.9" r="0.62"/><circle cx="225.3" cy="109.4" r="0.62"/><circle cx="222.1" cy="129.1" r="0.62"/><circle cx="223.0" cy="118.0" r="0.62"/><circle cx="220.5" cy="103.0" r="0.62"/><circle cx="222.1" cy="111.7" r="0.62"/><circle cx="225.5" cy="117.4" r="0.62"/><circle cx="221.0" cy="108.7" r="0.62"/><circle cx="219.7" cy="102.0" r="0.62"/><circle cx="217.2" cy="113.7" r="0.62"/><circle cx="225.2" cy="113.2" r="0.62"/><circle cx="220.4" cy="132.2" r="0.62"/><circle cx="224.7" cy="119.4" r="0.62"/><circle cx="218.3" cy="104.0" r="0.62"/><circle cx="222.0" cy="106.4" r="0.62"/><circle cx="219.9" cy="128.8" r="0.62"/><circle cx="220.8" cy="112.1" r="0.62"/><circle cx="220.2" cy="107.1" r="0.62"/><circle cx="220.6" cy="105.7" r="0.62"/><circle cx="223.4" cy="110.1" r="0.62"/><circle cx="223.5" cy="102.5" r="0.62"/><circle cx="218.0" cy="131.0" r="0.62"/><circle cx="216.9" cy="133.4" r="0.62"/><circle cx="224.7" cy="126.4" r="0.62"/><circle cx="222.7" cy="127.6" r="0.62"/><circle cx="220.3" cy="110.9" r="0.62"/><circle cx="223.8" cy="110.4" r="0.62"/><circle cx="217.9" cy="106.2" r="0.62"/><circle cx="221.0" cy="106.1" r="0.62"/><circle cx="223.6" cy="110.3" r="0.62"/><circle cx="221.5" cy="118.6" r="0.62"/><circle cx="222.0" cy="120.7" r="0.62"/><circle cx="224.9" cy="110.6" r="0.62"/><circle cx="223.3" cy="124.5" r="0.62"/><circle cx="222.6" cy="108.6" r="0.62"/><circle cx="222.6" cy="102.2" r="0.62"/><circle cx="220.9" cy="109.6" r="0.62"/><circle cx="220.5" cy="105.6" r="0.62"/><circle cx="225.8" cy="119.9" r="0.62"/><circle cx="217.5" cy="107.8" r="0.62"/><circle cx="218.3" cy="125.8" r="0.62"/><circle cx="220.4" cy="120.4" r="0.62"/><circle cx="219.5" cy="132.6" r="0.62"/><circle cx="221.5" cy="104.1" r="0.62"/><circle cx="217.8" cy="115.7" r="0.62"/><circle cx="219.6" cy="104.2" r="0.62"/><circle cx="225.3" cy="103.7" r="0.62"/><circle cx="223.5" cy="122.9" r="0.62"/><circle cx="220.1" cy="109.2" r="0.62"/><circle cx="217.1" cy="116.0" r="0.62"/><circle cx="218.5" cy="135.8" r="0.62"/><circle cx="225.0" cy="133.2" r="0.62"/><circle cx="219.5" cy="108.3" r="0.62"/><circle cx="219.1" cy="106.3" r="0.62"/><circle cx="220.1" cy="104.2" r="0.62"/><circle cx="218.7" cy="134.0" r="0.62"/><circle cx="220.7" cy="133.2" r="0.62"/><circle cx="218.5" cy="111.6" r="0.62"/><circle cx="220.1" cy="119.0" r="0.62"/><circle cx="220.6" cy="114.1" r="0.62"/><circle cx="221.2" cy="104.5" r="0.62"/><circle cx="223.6" cy="104.2" r="0.62"/><circle cx="222.7" cy="125.0" r="0.62"/><circle cx="219.6" cy="129.0" r="0.62"/><circle cx="225.6" cy="109.9" r="0.62"/><circle cx="220.0" cy="116.4" r="0.62"/><circle cx="217.8" cy="116.2" r="0.62"/><circle cx="220.1" cy="122.5" r="0.62"/><circle cx="222.0" cy="102.9" r="0.62"/><circle cx="219.6" cy="102.5" r="0.62"/><circle cx="220.5" cy="107.5" r="0.62"/><circle cx="216.9" cy="106.0" r="0.62"/><circle cx="222.0" cy="106.9" r="0.62"/><circle cx="220.1" cy="105.3" r="0.62"/><circle cx="223.4" cy="130.0" r="0.62"/><circle cx="218.8" cy="117.4" r="0.62"/><circle cx="222.6" cy="119.9" r="0.62"/><circle cx="225.4" cy="103.5" r="0.62"/><circle cx="223.9" cy="107.9" r="0.62"/><circle cx="216.7" cy="107.2" r="0.62"/><circle cx="217.0" cy="106.9" r="0.62"/><circle cx="217.0" cy="116.5" r="0.62"/><circle cx="218.0" cy="108.0" r="0.62"/><circle cx="221.6" cy="117.7" r="0.62"/><circle cx="223.8" cy="129.6" r="0.62"/><circle cx="222.5" cy="116.3" r="0.62"/><circle cx="219.0" cy="133.6" r="0.62"/><circle cx="220.7" cy="127.0" r="0.62"/><circle cx="221.9" cy="107.0" r="0.62"/><circle cx="216.9" cy="123.4" r="0.62"/><circle cx="220.1" cy="111.6" r="0.62"/><circle cx="220.1" cy="111.2" r="0.62"/><circle cx="220.5" cy="108.8" r="0.62"/><circle cx="223.2" cy="108.9" r="0.62"/><circle cx="222.4" cy="108.8" r="0.62"/><circle cx="222.3" cy="103.6" r="0.62"/><circle cx="221.3" cy="106.8" r="0.62"/><circle cx="225.8" cy="126.6" r="0.62"/><circle cx="224.8" cy="103.3" r="0.62"/><circle cx="220.3" cy="110.1" r="0.62"/><circle cx="221.8" cy="104.3" r="0.62"/><circle cx="218.0" cy="124.3" r="0.62"/><circle cx="221.5" cy="120.3" r="0.62"/><circle cx="218.2" cy="117.4" r="0.62"/><circle cx="222.3" cy="102.3" r="0.62"/><circle cx="218.7" cy="123.5" r="0.62"/><circle cx="220.9" cy="130.8" r="0.62"/><circle cx="219.3" cy="116.5" r="0.62"/><circle cx="223.1" cy="121.1" r="0.62"/><circle cx="222.5" cy="114.3" r="0.62"/></g>
</g>
<g fill="none" stroke="#000" stroke-width="1.85">
<rect x="188.2" y="68.0" width="27.500000000000004" height="32.599999999999994"/>
<line x1="206.0" y1="68.0" x2="206.0" y2="100.6"/>
<rect x="215.7" y="68.0" width="11.299999999999997" height="71.6"/>
</g>
<rect x="157.0" y="35.0" width="105.2" height="104.6" fill="none" stroke="#000" stroke-width="1.75"/>
<line x1="155.4" y1="37.0" x2="155.4" y2="139.6" stroke="#aaa" stroke-width="0.9" stroke-dasharray="0.8 2.2"/>
<text x="155.4" y="47.8" font-size="10.0" font-weight="bold" text-anchor="end">10<tspan font-size="7.0" dy="-3.5">5</tspan></text>
<text x="155.4" y="70.7" font-size="10.0" font-weight="bold" text-anchor="end">10<tspan font-size="7.0" dy="-3.5">4</tspan></text>
<text x="155.4" y="94.4" font-size="10.0" font-weight="bold" text-anchor="end">10<tspan font-size="7.0" dy="-3.5">3</tspan></text>
<text x="155.4" y="119.8" font-size="10.0" font-weight="bold" text-anchor="end">10<tspan font-size="7.0" dy="-3.5">2</tspan></text>
<text x="153.6" y="132.7" font-size="10.0" font-weight="bold" text-anchor="end">0</text>
<text x="163.8" y="150.7" font-size="10.1" font-weight="bold">0</text>
<text x="172.2" y="150.7" font-size="10.1" font-weight="bold">10<tspan font-size="7.0" dy="-3.6">2</tspan></text>
<text x="197.1" y="150.7" font-size="10.1" font-weight="bold">10<tspan font-size="7.0" dy="-3.6">3</tspan></text>
<text x="221.7" y="150.7" font-size="10.1" font-weight="bold">10<tspan font-size="7.0" dy="-3.6">4</tspan></text>
<text x="244.2" y="150.7" font-size="10.1" font-weight="bold">10<tspan font-size="7.0" dy="-3.6">5</tspan></text>
<text x="282.6" y="31.4" font-size="11.25" font-weight="bold" text-anchor="start" >NLV (HLA A2; pp65)</text>
<g clip-path="url(#cp2)">
<g filter="url(#b3)">
<path d="M293.4,146.0 L293.4,112.0 L297.4,102.0 L304.4,96.0 L314.4,94.0 L324.4,96.0 L337.4,100.0 L337.4,146.0 Z" fill="#000" opacity="0.13"/>
<ellipse cx="309.4" cy="114" rx="7.5" ry="13" fill="#000" opacity="0.28"/>
<ellipse cx="311.4" cy="130" rx="10" ry="10" fill="#000" opacity="0.1"/>
<ellipse cx="330.0" cy="84" rx="4" ry="12" fill="#000" opacity="0.26"/>
<ellipse cx="327.4" cy="86" rx="7" ry="12" fill="#000" opacity="0.08"/>
<ellipse cx="347.4" cy="96" rx="3.5" ry="12" fill="#000" opacity="0.06"/>
</g>
<rect x="284.4" y="136.0" width="105.2" height="6" fill="#fff" opacity="0.45" filter="url(#b1)"/>
<g filter="url(#b1)"><ellipse cx="347.09999999999997" cy="94.8" rx="3" ry="19" fill="#707070" opacity="0.30"/><ellipse cx="347.09999999999997" cy="80.8" rx="2.6" ry="5" fill="#c06060" opacity="0.25"/><ellipse cx="339.09999999999997" cy="86.8" rx="2.5" ry="8" fill="#8080a0" opacity="0.2"/></g>
<g fill="#0a0af0"><circle cx="338.6" cy="74.6" r="0.6"/><circle cx="338.1" cy="79.4" r="0.6"/><circle cx="338.2" cy="77.2" r="0.6"/><circle cx="338.8" cy="80.9" r="0.6"/><circle cx="340.1" cy="79.6" r="0.6"/><circle cx="338.9" cy="73.6" r="0.6"/><circle cx="339.8" cy="80.1" r="0.6"/><circle cx="336.8" cy="74.7" r="0.6"/><circle cx="338.9" cy="76.6" r="0.6"/><circle cx="341.1" cy="75.6" r="0.6"/><circle cx="341.5" cy="79.2" r="0.6"/><circle cx="337.6" cy="71.7" r="0.6"/><circle cx="339.0" cy="79.7" r="0.6"/><circle cx="338.6" cy="74.2" r="0.6"/><circle cx="338.9" cy="83.0" r="0.6"/><circle cx="340.9" cy="78.6" r="0.6"/><circle cx="341.3" cy="77.0" r="0.6"/><circle cx="340.8" cy="77.5" r="0.6"/><circle cx="337.5" cy="77.1" r="0.6"/><circle cx="337.3" cy="78.8" r="0.6"/><circle cx="337.6" cy="81.8" r="0.6"/><circle cx="339.3" cy="79.9" r="0.6"/><circle cx="340.9" cy="76.8" r="0.6"/><circle cx="340.8" cy="79.9" r="0.6"/><circle cx="338.7" cy="72.5" r="0.6"/><circle cx="339.1" cy="79.5" r="0.6"/><circle cx="337.2" cy="82.9" r="0.6"/><circle cx="340.5" cy="74.7" r="0.6"/><circle cx="340.9" cy="76.6" r="0.6"/><circle cx="336.5" cy="76.7" r="0.6"/><circle cx="340.6" cy="78.0" r="0.6"/><circle cx="341.2" cy="79.9" r="0.6"/><circle cx="340.1" cy="77.8" r="0.6"/><circle cx="338.3" cy="76.2" r="0.6"/><circle cx="341.3" cy="73.6" r="0.6"/><circle cx="339.2" cy="79.6" r="0.6"/><circle cx="341.2" cy="79.7" r="0.6"/><circle cx="339.8" cy="75.2" r="0.6"/><circle cx="339.1" cy="79.6" r="0.6"/><circle cx="339.5" cy="76.0" r="0.6"/><circle cx="341.1" cy="79.2" r="0.6"/><circle cx="339.2" cy="78.6" r="0.6"/><circle cx="339.9" cy="79.9" r="0.6"/><circle cx="337.9" cy="74.9" r="0.6"/><circle cx="337.7" cy="75.5" r="0.6"/><circle cx="339.3" cy="76.2" r="0.6"/><circle cx="339.8" cy="77.4" r="0.6"/><circle cx="340.3" cy="77.5" r="0.6"/><circle cx="337.6" cy="84.1" r="0.6"/><circle cx="337.8" cy="81.2" r="0.6"/><circle cx="339.4" cy="78.7" r="0.6"/><circle cx="337.7" cy="75.8" r="0.6"/><circle cx="340.6" cy="75.0" r="0.6"/><circle cx="340.7" cy="76.7" r="0.6"/><circle cx="339.3" cy="76.6" r="0.6"/><circle cx="341.3" cy="76.1" r="0.6"/><circle cx="340.3" cy="76.3" r="0.6"/><circle cx="337.6" cy="77.3" r="0.6"/><circle cx="337.5" cy="75.9" r="0.6"/><circle cx="338.5" cy="73.0" r="0.6"/><circle cx="339.1" cy="75.2" r="0.6"/><circle cx="340.2" cy="80.0" r="0.6"/><circle cx="342.0" cy="77.5" r="0.6"/><circle cx="340.5" cy="80.8" r="0.6"/><circle cx="338.6" cy="77.5" r="0.6"/><circle cx="338.4" cy="75.5" r="0.6"/><circle cx="336.9" cy="81.7" r="0.6"/><circle cx="338.0" cy="78.3" r="0.6"/><circle cx="340.6" cy="75.0" r="0.6"/><circle cx="336.9" cy="76.8" r="0.6"/><circle cx="341.4" cy="77.6" r="0.6"/><circle cx="338.5" cy="76.5" r="0.6"/><circle cx="340.4" cy="74.8" r="0.6"/><circle cx="336.2" cy="78.9" r="0.6"/><circle cx="338.4" cy="74.5" r="0.6"/><circle cx="340.7" cy="77.1" r="0.6"/><circle cx="338.1" cy="75.0" r="0.6"/><circle cx="336.7" cy="77.6" r="0.6"/><circle cx="341.4" cy="77.1" r="0.6"/><circle cx="340.4" cy="78.0" r="0.6"/><circle cx="337.8" cy="74.0" r="0.6"/><circle cx="338.1" cy="76.1" r="0.6"/><circle cx="340.2" cy="82.1" r="0.6"/><circle cx="340.9" cy="79.0" r="0.6"/><circle cx="339.1" cy="76.9" r="0.6"/><circle cx="340.9" cy="79.9" r="0.6"/><circle cx="338.4" cy="74.0" r="0.6"/><circle cx="340.4" cy="76.1" r="0.6"/><circle cx="341.3" cy="80.2" r="0.6"/><circle cx="340.5" cy="78.4" r="0.6"/><circle cx="338.9" cy="79.6" r="0.6"/><circle cx="341.5" cy="76.5" r="0.6"/><circle cx="338.2" cy="72.9" r="0.6"/><circle cx="341.1" cy="81.1" r="0.6"/><circle cx="340.7" cy="76.3" r="0.6"/><circle cx="340.5" cy="82.2" r="0.6"/><circle cx="339.7" cy="77.8" r="0.6"/><circle cx="339.9" cy="78.4" r="0.6"/><circle cx="336.7" cy="79.3" r="0.6"/><circle cx="341.0" cy="80.4" r="0.6"/><circle cx="341.0" cy="76.3" r="0.6"/><circle cx="340.3" cy="79.0" r="0.6"/><circle cx="340.5" cy="75.4" r="0.6"/><circle cx="337.4" cy="75.8" r="0.6"/><circle cx="340.0" cy="82.1" r="0.6"/><circle cx="339.3" cy="79.6" r="0.6"/><circle cx="338.7" cy="80.5" r="0.6"/><circle cx="340.6" cy="78.6" r="0.6"/><circle cx="337.5" cy="78.6" r="0.6"/><circle cx="340.2" cy="82.6" r="0.6"/><circle cx="339.2" cy="80.6" r="0.6"/><circle cx="339.8" cy="78.6" r="0.6"/><circle cx="339.3" cy="75.5" r="0.6"/><circle cx="338.5" cy="76.1" r="0.6"/><circle cx="339.6" cy="81.5" r="0.6"/><circle cx="336.5" cy="79.5" r="0.6"/><circle cx="338.5" cy="73.0" r="0.6"/><circle cx="338.0" cy="78.0" r="0.6"/><circle cx="338.3" cy="75.4" r="0.6"/><circle cx="339.5" cy="77.8" r="0.6"/><circle cx="340.0" cy="80.0" r="0.6"/><circle cx="338.2" cy="81.1" r="0.6"/><circle cx="339.0" cy="76.9" r="0.6"/><circle cx="339.8" cy="77.8" r="0.6"/><circle cx="338.6" cy="81.7" r="0.6"/><circle cx="338.5" cy="73.6" r="0.6"/><circle cx="338.4" cy="77.6" r="0.6"/><circle cx="338.5" cy="80.3" r="0.6"/><circle cx="341.1" cy="78.9" r="0.6"/><circle cx="340.3" cy="77.7" r="0.6"/><circle cx="341.4" cy="79.3" r="0.6"/><circle cx="338.1" cy="75.5" r="0.6"/><circle cx="340.2" cy="77.0" r="0.6"/><circle cx="337.0" cy="82.1" r="0.6"/><circle cx="339.9" cy="78.1" r="0.6"/><circle cx="341.0" cy="80.3" r="0.6"/><circle cx="336.8" cy="80.4" r="0.6"/><circle cx="338.4" cy="78.2" r="0.6"/><circle cx="338.1" cy="78.2" r="0.6"/><circle cx="336.7" cy="79.6" r="0.6"/><circle cx="341.6" cy="74.6" r="0.6"/><circle cx="340.6" cy="78.1" r="0.6"/><circle cx="339.7" cy="82.4" r="0.6"/><circle cx="338.4" cy="80.5" r="0.6"/><circle cx="340.8" cy="76.5" r="0.6"/><circle cx="339.7" cy="74.1" r="0.6"/><circle cx="339.2" cy="79.8" r="0.6"/><circle cx="340.8" cy="75.7" r="0.6"/><circle cx="339.2" cy="77.2" r="0.6"/><circle cx="338.6" cy="80.3" r="0.6"/><circle cx="341.0" cy="81.0" r="0.6"/><circle cx="340.4" cy="79.0" r="0.6"/><circle cx="339.9" cy="76.8" r="0.6"/><circle cx="340.0" cy="77.4" r="0.6"/><circle cx="339.8" cy="76.8" r="0.6"/><circle cx="341.8" cy="77.5" r="0.6"/><circle cx="339.5" cy="72.5" r="0.6"/><circle cx="341.6" cy="77.1" r="0.6"/><circle cx="338.0" cy="77.8" r="0.6"/><circle cx="339.9" cy="76.4" r="0.6"/><circle cx="340.3" cy="78.3" r="0.6"/><circle cx="339.2" cy="72.7" r="0.6"/><circle cx="338.4" cy="78.4" r="0.6"/><circle cx="338.9" cy="77.4" r="0.6"/><circle cx="339.6" cy="78.7" r="0.6"/><circle cx="341.3" cy="76.4" r="0.6"/><circle cx="340.5" cy="76.9" r="0.6"/><circle cx="338.0" cy="79.5" r="0.6"/><circle cx="340.5" cy="77.2" r="0.6"/><circle cx="340.8" cy="76.4" r="0.6"/><circle cx="336.5" cy="74.9" r="0.6"/><circle cx="339.2" cy="73.6" r="0.6"/><circle cx="338.3" cy="78.3" r="0.6"/><circle cx="338.7" cy="74.6" r="0.6"/><circle cx="341.2" cy="78.7" r="0.6"/><circle cx="338.3" cy="69.2" r="0.6"/><circle cx="339.0" cy="76.1" r="0.6"/><circle cx="340.8" cy="75.5" r="0.6"/><circle cx="339.2" cy="71.5" r="0.6"/><circle cx="338.7" cy="75.9" r="0.6"/><circle cx="339.9" cy="77.9" r="0.6"/><circle cx="338.2" cy="77.4" r="0.6"/><circle cx="341.5" cy="73.2" r="0.6"/><circle cx="341.6" cy="78.8" r="0.6"/><circle cx="340.6" cy="77.8" r="0.6"/><circle cx="337.8" cy="76.7" r="0.6"/><circle cx="339.5" cy="79.6" r="0.6"/><circle cx="338.9" cy="79.6" r="0.6"/><circle cx="341.8" cy="73.2" r="0.6"/><circle cx="342.0" cy="72.1" r="0.6"/><circle cx="340.6" cy="76.2" r="0.6"/><circle cx="341.8" cy="79.2" r="0.6"/><circle cx="339.9" cy="81.9" r="0.6"/><circle cx="338.4" cy="78.0" r="0.6"/><circle cx="339.6" cy="78.8" r="0.6"/><circle cx="338.6" cy="78.2" r="0.6"/><circle cx="336.6" cy="77.5" r="0.6"/><circle cx="339.0" cy="78.7" r="0.6"/><circle cx="340.8" cy="75.2" r="0.6"/><circle cx="339.3" cy="75.6" r="0.6"/><circle cx="338.8" cy="78.3" r="0.6"/><circle cx="337.7" cy="81.8" r="0.6"/><circle cx="341.0" cy="77.2" r="0.6"/><circle cx="339.1" cy="75.7" r="0.6"/><circle cx="338.7" cy="78.5" r="0.6"/><circle cx="338.8" cy="75.4" r="0.6"/><circle cx="338.3" cy="76.6" r="0.6"/><circle cx="339.4" cy="75.4" r="0.6"/><circle cx="338.9" cy="79.5" r="0.6"/><circle cx="338.9" cy="75.2" r="0.6"/><circle cx="340.1" cy="76.4" r="0.6"/><circle cx="341.0" cy="75.2" r="0.6"/><circle cx="337.7" cy="80.1" r="0.6"/><circle cx="339.6" cy="74.1" r="0.6"/><circle cx="341.7" cy="79.6" r="0.6"/><circle cx="341.6" cy="77.1" r="0.6"/><circle cx="340.1" cy="79.8" r="0.6"/><circle cx="338.4" cy="80.5" r="0.6"/><circle cx="337.9" cy="78.6" r="0.6"/><circle cx="339.7" cy="73.3" r="0.6"/><circle cx="340.4" cy="78.3" r="0.6"/><circle cx="341.8" cy="75.7" r="0.6"/><circle cx="340.4" cy="74.2" r="0.6"/><circle cx="337.8" cy="77.6" r="0.6"/><circle cx="338.0" cy="75.3" r="0.6"/><circle cx="338.6" cy="78.5" r="0.6"/><circle cx="337.9" cy="80.7" r="0.6"/><circle cx="338.5" cy="76.3" r="0.6"/><circle cx="337.4" cy="78.5" r="0.6"/><circle cx="338.8" cy="78.0" r="0.6"/><circle cx="339.5" cy="92.2" r="0.6"/><circle cx="341.3" cy="89.9" r="0.6"/><circle cx="336.1" cy="90.9" r="0.6"/><circle cx="340.6" cy="87.1" r="0.6"/><circle cx="340.2" cy="90.2" r="0.6"/><circle cx="340.1" cy="86.6" r="0.6"/><circle cx="338.2" cy="91.4" r="0.6"/><circle cx="339.3" cy="89.7" r="0.6"/><circle cx="338.7" cy="92.9" r="0.6"/><circle cx="341.1" cy="92.6" r="0.6"/><circle cx="336.5" cy="92.9" r="0.6"/><circle cx="337.4" cy="86.8" r="0.6"/><circle cx="341.2" cy="83.8" r="0.6"/><circle cx="339.7" cy="93.1" r="0.6"/></g>
<g fill="#ff0a0a"><circle cx="345.6" cy="77.0" r="0.6"/><circle cx="345.0" cy="78.1" r="0.6"/><circle cx="345.0" cy="76.0" r="0.6"/><circle cx="345.5" cy="75.9" r="0.6"/><circle cx="346.0" cy="75.6" r="0.6"/><circle cx="343.7" cy="77.8" r="0.6"/><circle cx="344.9" cy="73.3" r="0.6"/><circle cx="344.2" cy="75.8" r="0.6"/><circle cx="345.8" cy="77.9" r="0.6"/><circle cx="344.8" cy="73.9" r="0.6"/><circle cx="346.4" cy="78.4" r="0.6"/><circle cx="347.1" cy="70.5" r="0.6"/><circle cx="346.4" cy="75.8" r="0.6"/><circle cx="345.5" cy="75.1" r="0.6"/><circle cx="348.3" cy="76.3" r="0.6"/><circle cx="346.9" cy="72.2" r="0.6"/><circle cx="345.0" cy="77.3" r="0.6"/><circle cx="347.0" cy="78.4" r="0.6"/><circle cx="345.5" cy="79.6" r="0.6"/><circle cx="345.1" cy="73.9" r="0.6"/><circle cx="345.2" cy="79.2" r="0.6"/><circle cx="345.1" cy="72.4" r="0.6"/><circle cx="345.8" cy="73.9" r="0.6"/><circle cx="347.2" cy="75.9" r="0.6"/><circle cx="346.0" cy="76.3" r="0.6"/><circle cx="345.3" cy="73.4" r="0.6"/><circle cx="346.4" cy="76.3" r="0.6"/><circle cx="345.1" cy="76.3" r="0.6"/><circle cx="345.6" cy="71.7" r="0.6"/><circle cx="345.9" cy="77.7" r="0.6"/><circle cx="344.6" cy="73.9" r="0.6"/><circle cx="345.3" cy="77.4" r="0.6"/><circle cx="345.9" cy="73.9" r="0.6"/><circle cx="345.5" cy="74.3" r="0.6"/><circle cx="344.7" cy="78.7" r="0.6"/><circle cx="347.3" cy="73.1" r="0.6"/><circle cx="348.7" cy="74.0" r="0.6"/><circle cx="343.8" cy="71.2" r="0.6"/><circle cx="345.9" cy="75.9" r="0.6"/><circle cx="344.0" cy="77.8" r="0.6"/><circle cx="344.2" cy="70.2" r="0.6"/><circle cx="345.1" cy="75.9" r="0.6"/><circle cx="347.4" cy="73.0" r="0.6"/><circle cx="348.0" cy="80.2" r="0.6"/><circle cx="344.8" cy="76.9" r="0.6"/><circle cx="344.0" cy="75.7" r="0.6"/><circle cx="344.5" cy="68.8" r="0.6"/><circle cx="345.7" cy="76.9" r="0.6"/><circle cx="346.3" cy="79.2" r="0.6"/><circle cx="346.7" cy="71.2" r="0.6"/><circle cx="346.2" cy="75.9" r="0.6"/><circle cx="345.5" cy="76.1" r="0.6"/><circle cx="344.3" cy="74.3" r="0.6"/><circle cx="343.8" cy="77.4" r="0.6"/><circle cx="343.8" cy="76.4" r="0.6"/><circle cx="346.4" cy="74.7" r="0.6"/><circle cx="346.5" cy="75.1" r="0.6"/><circle cx="346.8" cy="76.5" r="0.6"/><circle cx="347.0" cy="75.6" r="0.6"/><circle cx="345.7" cy="73.6" r="0.6"/><circle cx="346.3" cy="78.5" r="0.6"/><circle cx="345.9" cy="77.8" r="0.6"/><circle cx="344.7" cy="72.9" r="0.6"/><circle cx="344.1" cy="73.0" r="0.6"/><circle cx="345.4" cy="73.0" r="0.6"/><circle cx="344.9" cy="76.0" r="0.6"/><circle cx="345.2" cy="73.2" r="0.6"/><circle cx="345.9" cy="76.3" r="0.6"/><circle cx="343.8" cy="80.9" r="0.6"/><circle cx="347.3" cy="76.9" r="0.6"/><circle cx="344.0" cy="74.0" r="0.6"/><circle cx="346.8" cy="80.5" r="0.6"/><circle cx="344.8" cy="71.8" r="0.6"/><circle cx="347.3" cy="74.6" r="0.6"/><circle cx="346.9" cy="73.6" r="0.6"/><circle cx="345.2" cy="74.5" r="0.6"/><circle cx="343.9" cy="77.8" r="0.6"/><circle cx="346.3" cy="74.4" r="0.6"/><circle cx="345.1" cy="75.6" r="0.6"/><circle cx="346.8" cy="73.8" r="0.6"/><circle cx="345.8" cy="78.6" r="0.6"/><circle cx="345.4" cy="72.4" r="0.6"/><circle cx="345.8" cy="69.0" r="0.6"/><circle cx="345.4" cy="76.4" r="0.6"/><circle cx="346.5" cy="76.6" r="0.6"/></g>
</g>
<g fill="none" stroke="#000" stroke-width="1.85">
<rect x="318.7" y="66.8" width="24.0" height="29.400000000000006"/>
<line x1="335.09999999999997" y1="66.8" x2="335.09999999999997" y2="96.2"/>
<rect x="342.7" y="66.8" width="11.700000000000003" height="72.8"/>
</g>
<rect x="284.4" y="35.0" width="105.2" height="104.6" fill="none" stroke="#000" stroke-width="1.75"/>
<line x1="282.79999999999995" y1="37.0" x2="282.79999999999995" y2="139.6" stroke="#aaa" stroke-width="0.9" stroke-dasharray="0.8 2.2"/>
<text x="282.79999999999995" y="47.8" font-size="10.0" font-weight="bold" text-anchor="end">10<tspan font-size="7.0" dy="-3.5">5</tspan></text>
<text x="282.79999999999995" y="70.7" font-size="10.0" font-weight="bold" text-anchor="end">10<tspan font-size="7.0" dy="-3.5">4</tspan></text>
<text x="282.79999999999995" y="94.4" font-size="10.0" font-weight="bold" text-anchor="end">10<tspan font-size="7.0" dy="-3.5">3</tspan></text>
<text x="282.79999999999995" y="119.8" font-size="10.0" font-weight="bold" text-anchor="end">10<tspan font-size="7.0" dy="-3.5">2</tspan></text>
<text x="280.99999999999994" y="132.7" font-size="10.0" font-weight="bold" text-anchor="end">0</text>
<text x="291.2" y="150.7" font-size="10.1" font-weight="bold">0</text>
<text x="299.59999999999997" y="150.7" font-size="10.1" font-weight="bold">10<tspan font-size="7.0" dy="-3.6">2</tspan></text>
<text x="324.5" y="150.7" font-size="10.1" font-weight="bold">10<tspan font-size="7.0" dy="-3.6">3</tspan></text>
<text x="349.09999999999997" y="150.7" font-size="10.1" font-weight="bold">10<tspan font-size="7.0" dy="-3.6">4</tspan></text>
<text x="371.59999999999997" y="150.7" font-size="10.1" font-weight="bold">10<tspan font-size="7.0" dy="-3.6">5</tspan></text>
<text x="408.7" y="31.4" font-size="11.15" font-weight="bold" text-anchor="start" >IPS (HLA B35; pp65)</text>
<g clip-path="url(#cp3)">
<g filter="url(#b3)">
<path d="M416.8,146.0 L416.8,113.0 L421.8,104.0 L431.8,96.0 L441.8,90.0 L461.8,96.0 L463.8,146.0 Z" fill="#000" opacity="0.16"/>
<ellipse cx="432.3" cy="116" rx="7.5" ry="15" fill="#000" opacity="0.36"/>
<ellipse cx="432.8" cy="132" rx="8" ry="8" fill="#000" opacity="0.12"/>
<ellipse cx="446.8" cy="114" rx="6" ry="18" fill="#000" opacity="0.22"/>
<ellipse cx="455.3" cy="85" rx="6" ry="13" fill="#000" opacity="0.5"/>
<ellipse cx="451.8" cy="90" rx="8" ry="15" fill="#000" opacity="0.16"/>
<ellipse cx="445.8" cy="98" rx="8" ry="7" fill="#000" opacity="0.16"/>
</g>
<rect x="411.8" y="136.0" width="105.2" height="6" fill="#fff" opacity="0.45" filter="url(#b1)"/>
<g filter="url(#b1)"><ellipse cx="473.6" cy="88.2" rx="2.4" ry="11" fill="#9a3a2a" opacity="0.55"/><ellipse cx="465.2" cy="91.2" rx="3" ry="6" fill="#606080" opacity="0.25"/></g>
<g fill="#1c1ce0"><circle cx="464.0" cy="82.1" r="0.6"/><circle cx="468.3" cy="79.1" r="0.6"/><circle cx="466.3" cy="76.7" r="0.6"/><circle cx="463.9" cy="78.4" r="0.6"/><circle cx="464.8" cy="82.6" r="0.6"/><circle cx="468.7" cy="77.5" r="0.6"/><circle cx="466.0" cy="86.4" r="0.6"/><circle cx="465.2" cy="71.0" r="0.6"/><circle cx="463.8" cy="77.2" r="0.6"/><circle cx="464.6" cy="75.0" r="0.6"/><circle cx="462.0" cy="76.2" r="0.6"/><circle cx="464.3" cy="80.4" r="0.6"/><circle cx="468.2" cy="78.0" r="0.6"/><circle cx="466.5" cy="73.6" r="0.6"/><circle cx="466.0" cy="81.9" r="0.6"/><circle cx="464.7" cy="81.4" r="0.6"/><circle cx="462.8" cy="81.0" r="0.6"/><circle cx="466.2" cy="80.4" r="0.6"/><circle cx="464.8" cy="77.5" r="0.6"/><circle cx="467.1" cy="88.0" r="0.6"/><circle cx="464.8" cy="81.1" r="0.6"/><circle cx="466.7" cy="85.0" r="0.6"/><circle cx="463.2" cy="72.7" r="0.6"/><circle cx="464.4" cy="88.2" r="0.6"/><circle cx="463.9" cy="77.8" r="0.6"/><circle cx="464.5" cy="80.3" r="0.6"/><circle cx="466.5" cy="75.0" r="0.6"/><circle cx="465.6" cy="81.9" r="0.6"/><circle cx="466.0" cy="75.5" r="0.6"/><circle cx="463.8" cy="89.0" r="0.6"/><circle cx="466.2" cy="76.2" r="0.6"/><circle cx="465.7" cy="72.8" r="0.6"/><circle cx="466.3" cy="76.8" r="0.6"/><circle cx="466.2" cy="77.5" r="0.6"/><circle cx="465.5" cy="75.7" r="0.6"/><circle cx="465.0" cy="85.8" r="0.6"/><circle cx="468.2" cy="78.1" r="0.6"/><circle cx="467.1" cy="82.6" r="0.6"/><circle cx="465.1" cy="72.5" r="0.6"/><circle cx="467.5" cy="76.5" r="0.6"/><circle cx="467.8" cy="79.5" r="0.6"/><circle cx="462.7" cy="83.5" r="0.6"/><circle cx="465.4" cy="83.7" r="0.6"/><circle cx="466.3" cy="84.0" r="0.6"/><circle cx="465.6" cy="73.3" r="0.6"/><circle cx="464.6" cy="80.1" r="0.6"/><circle cx="462.5" cy="80.4" r="0.6"/><circle cx="467.4" cy="79.1" r="0.6"/><circle cx="467.3" cy="75.4" r="0.6"/><circle cx="466.0" cy="75.7" r="0.6"/><circle cx="463.8" cy="77.0" r="0.6"/><circle cx="464.4" cy="72.1" r="0.6"/><circle cx="463.6" cy="83.2" r="0.6"/><circle cx="467.6" cy="77.9" r="0.6"/><circle cx="468.7" cy="83.9" r="0.6"/><circle cx="462.6" cy="76.6" r="0.6"/><circle cx="466.1" cy="74.4" r="0.6"/><circle cx="463.0" cy="78.3" r="0.6"/><circle cx="461.8" cy="75.0" r="0.6"/><circle cx="465.2" cy="77.5" r="0.6"/><circle cx="467.9" cy="77.3" r="0.6"/><circle cx="468.0" cy="82.5" r="0.6"/><circle cx="468.1" cy="72.9" r="0.6"/><circle cx="463.7" cy="76.8" r="0.6"/><circle cx="467.8" cy="73.5" r="0.6"/><circle cx="466.1" cy="76.6" r="0.6"/><circle cx="467.6" cy="83.4" r="0.6"/><circle cx="462.4" cy="72.8" r="0.6"/><circle cx="465.0" cy="77.2" r="0.6"/><circle cx="465.7" cy="80.7" r="0.6"/><circle cx="464.2" cy="85.5" r="0.6"/><circle cx="467.6" cy="75.6" r="0.6"/><circle cx="466.8" cy="79.4" r="0.6"/><circle cx="466.5" cy="74.4" r="0.6"/><circle cx="469.1" cy="79.4" r="0.6"/><circle cx="465.0" cy="78.9" r="0.6"/><circle cx="468.0" cy="77.5" r="0.6"/><circle cx="462.8" cy="72.2" r="0.6"/><circle cx="467.2" cy="78.7" r="0.6"/><circle cx="467.4" cy="76.0" r="0.6"/><circle cx="464.0" cy="85.5" r="0.6"/><circle cx="466.9" cy="77.1" r="0.6"/><circle cx="469.4" cy="73.5" r="0.6"/><circle cx="467.9" cy="76.3" r="0.6"/><circle cx="465.2" cy="84.3" r="0.6"/><circle cx="466.5" cy="82.5" r="0.6"/><circle cx="467.5" cy="82.8" r="0.6"/><circle cx="468.7" cy="80.7" r="0.6"/><circle cx="465.3" cy="76.8" r="0.6"/><circle cx="466.4" cy="77.8" r="0.6"/><circle cx="468.0" cy="80.4" r="0.6"/><circle cx="464.6" cy="73.5" r="0.6"/><circle cx="466.4" cy="76.5" r="0.6"/><circle cx="467.7" cy="77.6" r="0.6"/><circle cx="468.7" cy="71.6" r="0.6"/><circle cx="467.9" cy="77.3" r="0.6"/><circle cx="468.0" cy="77.1" r="0.6"/><circle cx="468.0" cy="78.8" r="0.6"/><circle cx="465.9" cy="80.4" r="0.6"/><circle cx="464.7" cy="79.4" r="0.6"/><circle cx="466.0" cy="76.2" r="0.6"/><circle cx="465.3" cy="88.1" r="0.6"/><circle cx="464.7" cy="79.0" r="0.6"/><circle cx="468.1" cy="82.2" r="0.6"/><circle cx="464.7" cy="76.2" r="0.6"/><circle cx="463.7" cy="72.3" r="0.6"/><circle cx="464.4" cy="80.5" r="0.6"/><circle cx="463.9" cy="81.3" r="0.6"/><circle cx="466.6" cy="83.6" r="0.6"/><circle cx="465.0" cy="75.7" r="0.6"/><circle cx="469.0" cy="73.4" r="0.6"/><circle cx="466.3" cy="81.4" r="0.6"/><circle cx="467.2" cy="76.2" r="0.6"/><circle cx="464.3" cy="77.7" r="0.6"/><circle cx="464.2" cy="81.8" r="0.6"/><circle cx="463.5" cy="84.2" r="0.6"/><circle cx="464.4" cy="81.5" r="0.6"/><circle cx="462.9" cy="76.3" r="0.6"/><circle cx="464.2" cy="85.6" r="0.6"/><circle cx="464.7" cy="75.3" r="0.6"/><circle cx="462.7" cy="78.0" r="0.6"/><circle cx="467.2" cy="82.1" r="0.6"/><circle cx="465.7" cy="80.0" r="0.6"/><circle cx="465.4" cy="76.8" r="0.6"/><circle cx="466.7" cy="80.1" r="0.6"/><circle cx="465.8" cy="76.9" r="0.6"/><circle cx="465.4" cy="74.6" r="0.6"/><circle cx="467.6" cy="77.7" r="0.6"/><circle cx="466.0" cy="71.8" r="0.6"/><circle cx="466.6" cy="76.3" r="0.6"/><circle cx="463.2" cy="75.3" r="0.6"/><circle cx="464.7" cy="74.2" r="0.6"/><circle cx="463.1" cy="83.0" r="0.6"/><circle cx="468.2" cy="80.6" r="0.6"/><circle cx="469.3" cy="81.0" r="0.6"/><circle cx="468.8" cy="76.7" r="0.6"/><circle cx="467.5" cy="76.8" r="0.6"/><circle cx="464.1" cy="72.5" r="0.6"/><circle cx="464.5" cy="84.9" r="0.6"/><circle cx="469.3" cy="73.7" r="0.6"/><circle cx="465.4" cy="79.9" r="0.6"/><circle cx="466.3" cy="73.3" r="0.6"/><circle cx="468.1" cy="76.2" r="0.6"/><circle cx="464.2" cy="71.6" r="0.6"/><circle cx="467.7" cy="78.1" r="0.6"/><circle cx="461.5" cy="80.3" r="0.6"/><circle cx="464.5" cy="74.2" r="0.6"/><circle cx="467.4" cy="83.5" r="0.6"/><circle cx="465.1" cy="78.4" r="0.6"/><circle cx="465.9" cy="80.1" r="0.6"/><circle cx="464.6" cy="87.6" r="0.6"/><circle cx="464.8" cy="79.8" r="0.6"/><circle cx="466.3" cy="84.2" r="0.6"/><circle cx="468.0" cy="75.3" r="0.6"/><circle cx="464.4" cy="76.8" r="0.6"/><circle cx="464.8" cy="80.4" r="0.6"/><circle cx="461.6" cy="84.9" r="0.6"/><circle cx="469.3" cy="85.1" r="0.6"/><circle cx="464.6" cy="80.7" r="0.6"/><circle cx="464.5" cy="83.8" r="0.6"/><circle cx="465.2" cy="80.2" r="0.6"/><circle cx="467.6" cy="81.5" r="0.6"/><circle cx="465.8" cy="75.6" r="0.6"/><circle cx="467.2" cy="76.1" r="0.6"/><circle cx="465.3" cy="73.5" r="0.6"/><circle cx="466.7" cy="81.0" r="0.6"/><circle cx="466.9" cy="71.8" r="0.6"/><circle cx="462.7" cy="78.7" r="0.6"/><circle cx="465.7" cy="80.1" r="0.6"/><circle cx="468.3" cy="81.2" r="0.6"/><circle cx="462.9" cy="89.4" r="0.6"/><circle cx="463.8" cy="87.9" r="0.6"/><circle cx="466.1" cy="84.6" r="0.6"/><circle cx="463.9" cy="97.9" r="0.6"/><circle cx="467.5" cy="91.3" r="0.6"/><circle cx="468.2" cy="96.3" r="0.6"/><circle cx="464.3" cy="94.9" r="0.6"/><circle cx="462.3" cy="95.9" r="0.6"/><circle cx="464.7" cy="97.5" r="0.6"/><circle cx="469.2" cy="94.0" r="0.6"/><circle cx="461.5" cy="88.9" r="0.6"/><circle cx="464.6" cy="95.3" r="0.6"/><circle cx="466.0" cy="97.7" r="0.6"/><circle cx="462.2" cy="95.6" r="0.6"/><circle cx="469.1" cy="82.9" r="0.6"/><circle cx="467.7" cy="84.4" r="0.6"/><circle cx="465.4" cy="95.4" r="0.6"/><circle cx="466.4" cy="95.1" r="0.6"/><circle cx="464.0" cy="84.2" r="0.6"/><circle cx="465.0" cy="94.9" r="0.6"/></g>
<g fill="#b03020" opacity="0.6"><circle cx="473.2" cy="81.7" r="0.6"/><circle cx="473.4" cy="89.5" r="0.6"/><circle cx="474.8" cy="81.3" r="0.6"/><circle cx="475.2" cy="89.7" r="0.6"/><circle cx="473.7" cy="86.4" r="0.6"/><circle cx="475.0" cy="82.6" r="0.6"/><circle cx="474.0" cy="83.6" r="0.6"/><circle cx="474.6" cy="93.9" r="0.6"/><circle cx="471.7" cy="79.3" r="0.6"/><circle cx="473.2" cy="83.5" r="0.6"/><circle cx="474.1" cy="88.1" r="0.6"/><circle cx="472.8" cy="94.3" r="0.6"/><circle cx="474.6" cy="83.5" r="0.6"/><circle cx="473.4" cy="90.4" r="0.6"/><circle cx="475.6" cy="90.7" r="0.6"/><circle cx="472.5" cy="85.0" r="0.6"/><circle cx="475.2" cy="89.7" r="0.6"/><circle cx="475.1" cy="83.5" r="0.6"/><circle cx="472.7" cy="87.6" r="0.6"/><circle cx="474.1" cy="90.5" r="0.6"/><circle cx="472.9" cy="95.5" r="0.6"/><circle cx="473.6" cy="79.9" r="0.6"/><circle cx="473.5" cy="84.8" r="0.6"/><circle cx="476.4" cy="82.8" r="0.6"/><circle cx="472.2" cy="89.2" r="0.6"/></g>
</g>
<g fill="none" stroke="#000" stroke-width="1.85">
<rect x="443.2" y="68.2" width="27.1" height="32.39999999999999"/>
<line x1="460.2" y1="68.2" x2="460.2" y2="100.6"/>
<rect x="470.3" y="68.2" width="11.200000000000003" height="71.39999999999999"/>
</g>
<rect x="411.8" y="35.0" width="105.2" height="104.6" fill="none" stroke="#000" stroke-width="1.75"/>
<line x1="410.2" y1="37.0" x2="410.2" y2="139.6" stroke="#aaa" stroke-width="0.9" stroke-dasharray="0.8 2.2"/>
<text x="410.2" y="47.8" font-size="10.0" font-weight="bold" text-anchor="end">10<tspan font-size="7.0" dy="-3.5">5</tspan></text>
<text x="410.2" y="70.7" font-size="10.0" font-weight="bold" text-anchor="end">10<tspan font-size="7.0" dy="-3.5">4</tspan></text>
<text x="410.2" y="94.4" font-size="10.0" font-weight="bold" text-anchor="end">10<tspan font-size="7.0" dy="-3.5">3</tspan></text>
<text x="410.2" y="119.8" font-size="10.0" font-weight="bold" text-anchor="end">10<tspan font-size="7.0" dy="-3.5">2</tspan></text>
<text x="408.4" y="132.7" font-size="10.0" font-weight="bold" text-anchor="end">0</text>
<text x="418.6" y="150.7" font-size="10.1" font-weight="bold">0</text>
<text x="427.0" y="150.7" font-size="10.1" font-weight="bold">10<tspan font-size="7.0" dy="-3.6">2</tspan></text>
<text x="451.90000000000003" y="150.7" font-size="10.1" font-weight="bold">10<tspan font-size="7.0" dy="-3.6">3</tspan></text>
<text x="476.5" y="150.7" font-size="10.1" font-weight="bold">10<tspan font-size="7.0" dy="-3.6">4</tspan></text>
<text x="499.0" y="150.7" font-size="10.1" font-weight="bold">10<tspan font-size="7.0" dy="-3.6">5</tspan></text>
<g fill="none" stroke="#000" stroke-width="2"><polyline points="7.1,117.5 7.1,159"/><polyline points="6.1,159 47,159"/><polyline points="2.8,123.4 7.1,117.2 11.4,123.4"/><polyline points="42,154.8 48.2,159 42,163.2"/></g>
<text transform="translate(11.3,108.6) rotate(-90)" font-size="11.2" font-weight="bold">Eomes</text>
<text x="49.4" y="161.8" font-size="11.3" font-weight="bold" text-anchor="start" >T-bet</text>
<text x="8.6" y="187.6" font-size="17.0" font-weight="bold" text-anchor="start" stroke="#000" stroke-width="0.6" transform="translate(8.6,0) scale(0.93,1) translate(-8.6,0)">B</text>
<rect x="57.6" y="183.8" width="8.8" height="8.6" fill="#f2f04a" stroke="#4a4a10" stroke-width="1"/>
<rect x="145.8" y="183.4" width="8.8" height="8.6" fill="#1212dc" stroke="#0a0a50" stroke-width="1"/>
<rect x="236.0" y="183.1" width="8.8" height="8.6" fill="#f21416" stroke="#6a0a0a" stroke-width="1"/>
<text x="70.9" y="191.7" font-size="10.2" font-weight="bold"><tspan y="191.7">T-bet</tspan><tspan font-size="7" y="187.6">lo</tspan><tspan y="191.7">Eomes</tspan><tspan font-size="7" y="187.6">hi</tspan></text>
<text x="158.2" y="190.6" font-size="10.2" font-weight="bold"><tspan y="190.6">T-bet</tspan><tspan font-size="7" y="186.5">int</tspan><tspan y="190.6">Eomes</tspan><tspan font-size="7" y="186.5">hi</tspan></text>
<text x="249.6" y="190.0" font-size="10.2" font-weight="bold"><tspan y="190.0">T-bet</tspan><tspan font-size="7.2" y="185.7">hi</tspan><tspan y="190.0">Eomes</tspan><tspan font-size="7.2" y="185.7">hi/lo</tspan></text>
<rect x="49.8" y="194.9" width="289.2" height="122.49999999999997" fill="none" stroke="#000" stroke-width="1.8"/>
<line x1="45.8" y1="317.4" x2="49.8" y2="317.4" stroke="#000" stroke-width="1.6"/>
<text x="44.8" y="322.59999999999997" font-size="11" font-weight="bold" text-anchor="end" >0</text>
<line x1="45.8" y1="292.9" x2="49.8" y2="292.9" stroke="#000" stroke-width="1.6"/>
<text x="44.8" y="298.09999999999997" font-size="11" font-weight="bold" text-anchor="end" >20</text>
<line x1="45.8" y1="268.4" x2="49.8" y2="268.4" stroke="#000" stroke-width="1.6"/>
<text x="44.8" y="273.59999999999997" font-size="11" font-weight="bold" text-anchor="end" >40</text>
<line x1="45.8" y1="243.9" x2="49.8" y2="243.9" stroke="#000" stroke-width="1.6"/>
<text x="44.8" y="249.09999999999997" font-size="11" font-weight="bold" text-anchor="end" >60</text>
<line x1="45.8" y1="219.4" x2="49.8" y2="219.4" stroke="#000" stroke-width="1.6"/>
<text x="44.8" y="224.59999999999997" font-size="11" font-weight="bold" text-anchor="end" >80</text>
<line x1="45.8" y1="194.9" x2="49.8" y2="194.9" stroke="#000" stroke-width="1.6"/>
<text x="44.8" y="200.10000000000002" font-size="11" font-weight="bold" text-anchor="end" >100</text>
<text transform="translate(29.4,280.4) rotate(-90)" font-size="11.0" font-weight="bold">% positive</text>
<rect x="53.4" y="314.6" width="18.7" height="2.8" fill="#b8b840" stroke="#000" stroke-width="1.3"/>
<line x1="83.1" y1="292.5" x2="83.1" y2="296.0" stroke="#000" stroke-width="1.6"/>
<line x1="78.1" y1="292.5" x2="88.1" y2="292.5" stroke="#000" stroke-width="1.6"/>
<rect x="73.9" y="296.0" width="18.4" height="21.4" fill="#2f3fe0" stroke="#000" stroke-width="1.8"/>
<line x1="103.5" y1="218.9" x2="103.5" y2="223.2" stroke="#000" stroke-width="1.6"/>
<line x1="98.5" y1="218.9" x2="108.5" y2="218.9" stroke="#000" stroke-width="1.6"/>
<rect x="93.9" y="223.2" width="19.2" height="94.2" fill="#ff0000" stroke="#000" stroke-width="1.8"/>
<text x="83.8" y="329.8" font-size="11.3" font-weight="bold" text-anchor="middle" >ELR/K</text>
<text x="103.1" y="219.6" font-size="15" font-weight="bold" text-anchor="middle" letter-spacing="1.1">**</text>
<rect x="129.4" y="314.6" width="18.2" height="2.8" fill="#b8b840" stroke="#000" stroke-width="1.3"/>
<line x1="158.3" y1="283.1" x2="158.3" y2="290.0" stroke="#000" stroke-width="1.6"/>
<line x1="153.3" y1="283.1" x2="163.3" y2="283.1" stroke="#000" stroke-width="1.6"/>
<rect x="149.4" y="290.0" width="17.9" height="27.4" fill="#2f3fe0" stroke="#000" stroke-width="1.8"/>
<line x1="177.7" y1="222.0" x2="177.7" y2="229.7" stroke="#000" stroke-width="1.6"/>
<line x1="172.7" y1="222.0" x2="182.7" y2="222.0" stroke="#000" stroke-width="1.6"/>
<rect x="168.1" y="229.7" width="19.2" height="87.7" fill="#ff0000" stroke="#000" stroke-width="1.8"/>
<text x="159.0" y="329.8" font-size="11.3" font-weight="bold" text-anchor="middle" >VTE</text>
<text x="178.5" y="222.0" font-size="15" font-weight="bold" text-anchor="middle" letter-spacing="1.1">**</text>
<rect x="201.4" y="313.2" width="18.7" height="4.2" fill="#f2f23a" stroke="#000" stroke-width="1.3"/>
<line x1="231.0" y1="245.7" x2="231.0" y2="251.2" stroke="#000" stroke-width="1.6"/>
<line x1="226.0" y1="245.7" x2="236.0" y2="245.7" stroke="#000" stroke-width="1.6"/>
<rect x="221.9" y="251.2" width="18.2" height="66.1" fill="#2f3fe0" stroke="#000" stroke-width="1.8"/>
<line x1="250.0" y1="272.8" x2="250.0" y2="277.6" stroke="#000" stroke-width="1.6"/>
<line x1="245.0" y1="272.8" x2="255.0" y2="272.8" stroke="#000" stroke-width="1.6"/>
<rect x="241.4" y="277.6" width="17.2" height="39.8" fill="#ff0000" stroke="#000" stroke-width="1.8"/>
<text x="231.5" y="329.8" font-size="11.3" font-weight="bold" text-anchor="middle" >NLV</text>
<rect x="265.9" y="313.0" width="18.2" height="4.4" fill="#f2f23a" stroke="#000" stroke-width="1.3"/>
<line x1="294.8" y1="253.9" x2="294.8" y2="261.5" stroke="#000" stroke-width="1.6"/>
<line x1="289.8" y1="253.9" x2="299.8" y2="253.9" stroke="#000" stroke-width="1.6"/>
<rect x="285.9" y="261.5" width="17.7" height="55.9" fill="#2f3fe0" stroke="#000" stroke-width="1.8"/>
<line x1="313.5" y1="250.6" x2="313.5" y2="260.3" stroke="#000" stroke-width="1.6"/>
<line x1="308.5" y1="250.6" x2="318.5" y2="250.6" stroke="#000" stroke-width="1.6"/>
<rect x="304.9" y="260.3" width="17.2" height="57.1" fill="#ff0000" stroke="#000" stroke-width="1.8"/>
<text x="296.2" y="329.8" font-size="11.3" font-weight="bold" text-anchor="middle" >IPS</text>
<text x="349.6" y="188.2" font-size="17.4" font-weight="bold" text-anchor="start" stroke="#000" stroke-width="0.7">C</text>
<rect x="374.5" y="197.8" width="141.2" height="117.0" fill="none" stroke="#000" stroke-width="1.8"/>
<line x1="370.4" y1="314.8" x2="374.5" y2="314.8" stroke="#000" stroke-width="1.6"/>
<text x="369.6" y="320.5" font-size="10.8" font-weight="bold" text-anchor="end" >0</text>
<line x1="370.4" y1="275.8" x2="374.5" y2="275.8" stroke="#000" stroke-width="1.6"/>
<text x="369.6" y="281.5" font-size="10.8" font-weight="bold" text-anchor="end" >1</text>
<line x1="370.4" y1="236.8" x2="374.5" y2="236.8" stroke="#000" stroke-width="1.6"/>
<text x="369.6" y="242.5" font-size="10.8" font-weight="bold" text-anchor="end" >2</text>
<line x1="370.4" y1="197.8" x2="374.5" y2="197.8" stroke="#000" stroke-width="1.6"/>
<text x="369.6" y="203.5" font-size="10.8" font-weight="bold" text-anchor="end" >3</text>
<text transform="translate(358.9,300.4) rotate(-90)" font-size="11.1" font-weight="bold">T-bet : Eomes Ratio</text>
<line x1="391.90000000000003" y1="227.8" x2="391.90000000000003" y2="236.0" stroke="#000" stroke-width="1.8"/>
<line x1="385.70000000000005" y1="227.8" x2="398.1" y2="227.8" stroke="#000" stroke-width="1.8"/>
<rect x="379.3" y="236.0" width="25.2" height="78.8" fill="#000"/>
<text x="390.9" y="326.7" font-size="10.9" font-weight="bold" text-anchor="middle" >ELR/K</text>
<line x1="427.70000000000005" y1="216.5" x2="427.70000000000005" y2="235.2" stroke="#000" stroke-width="1.8"/>
<line x1="421.50000000000006" y1="216.5" x2="433.90000000000003" y2="216.5" stroke="#000" stroke-width="1.8"/>
<rect x="415.1" y="235.2" width="25.2" height="79.6" fill="#000"/>
<text x="426.0" y="326.7" font-size="11.3" font-weight="bold" text-anchor="middle" >VTE</text>
<line x1="462.70000000000005" y1="268.4" x2="462.70000000000005" y2="273.5" stroke="#000" stroke-width="1.8"/>
<line x1="456.50000000000006" y1="268.4" x2="468.90000000000003" y2="268.4" stroke="#000" stroke-width="1.8"/>
<rect x="450.1" y="273.5" width="25.2" height="41.3" fill="#000"/>
<text x="462.5" y="326.7" font-size="11.3" font-weight="bold" text-anchor="middle" >NLV</text>
<line x1="498.3" y1="258.6" x2="498.3" y2="263.7" stroke="#000" stroke-width="1.8"/>
<line x1="492.1" y1="258.6" x2="504.5" y2="258.6" stroke="#000" stroke-width="1.8"/>
<rect x="485.7" y="263.7" width="25.2" height="51.1" fill="#000"/>
<text x="496.7" y="326.2" font-size="11.3" font-weight="bold" text-anchor="middle" >IPS</text>
<text x="391.4" y="228.7" font-size="15" font-weight="bold" text-anchor="middle" >*</text></svg>
</body></html>
